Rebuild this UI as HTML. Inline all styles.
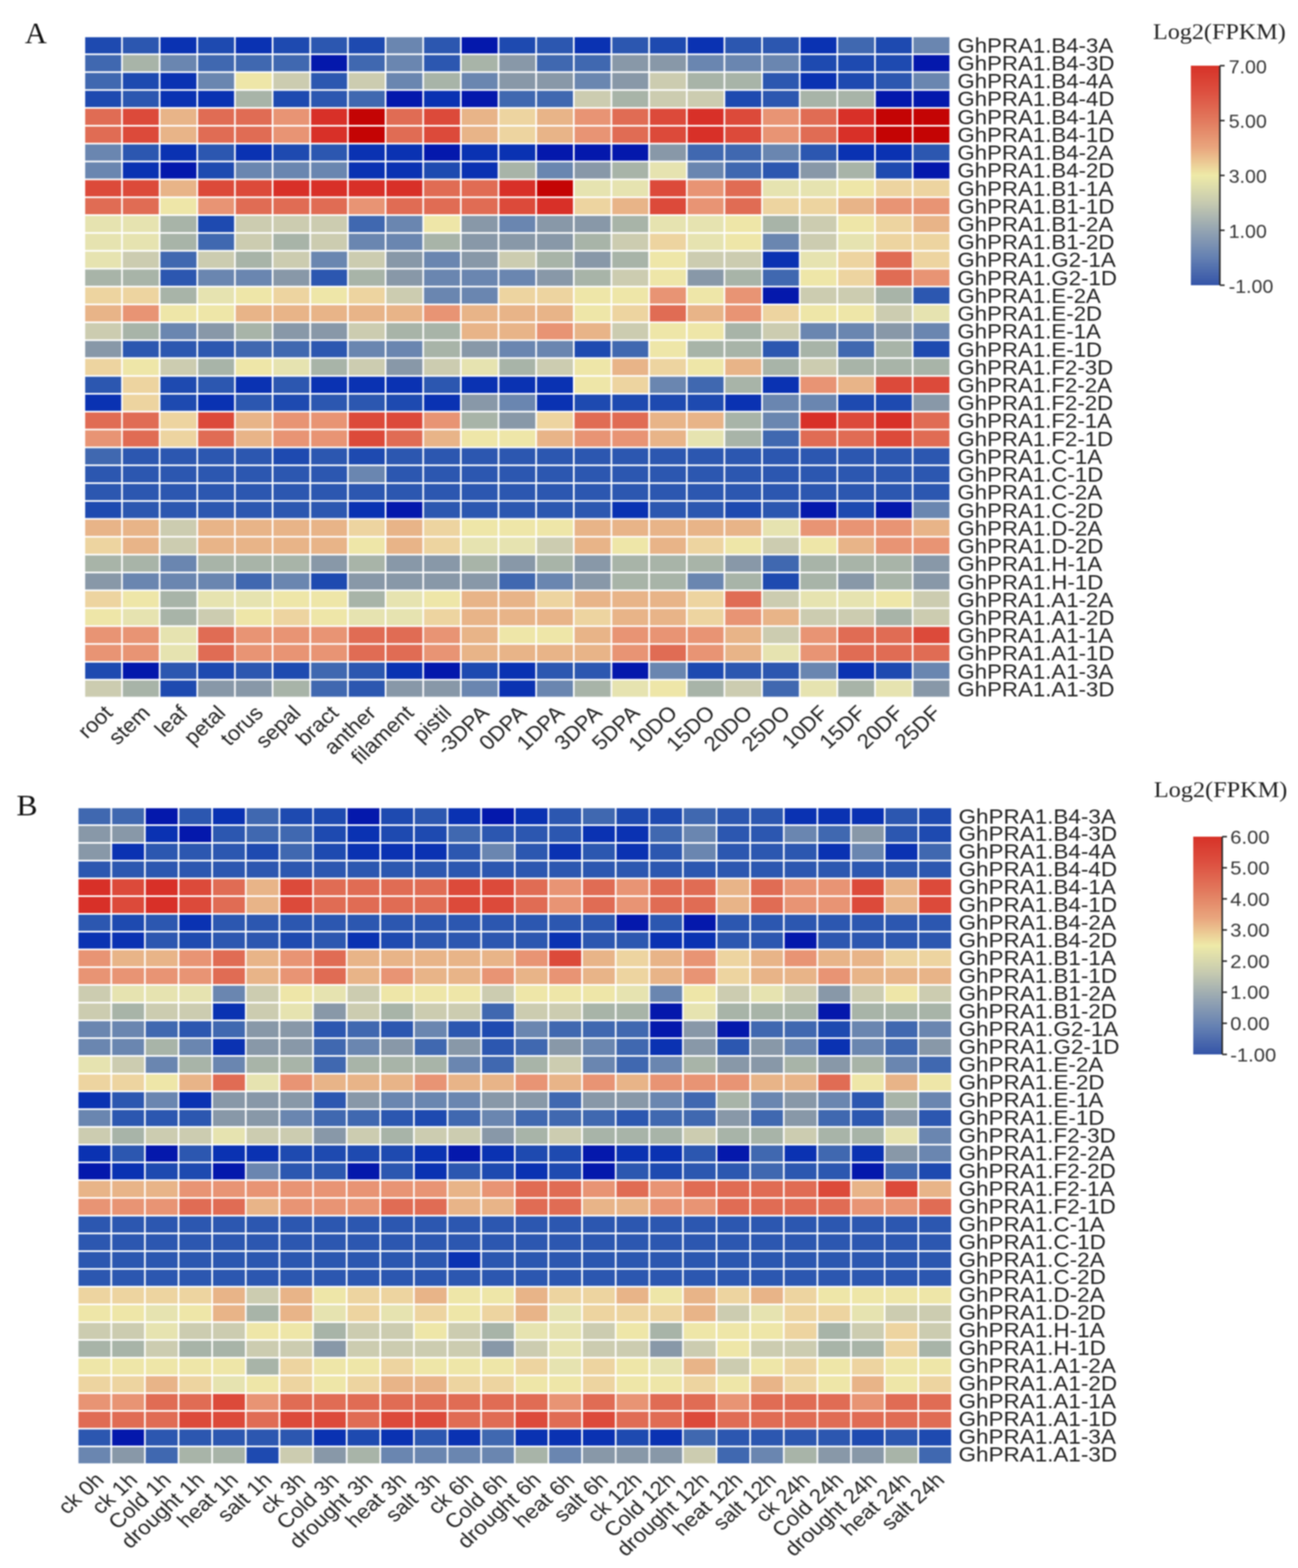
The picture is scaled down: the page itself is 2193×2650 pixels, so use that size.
<!DOCTYPE html>
<html><head><meta charset="utf-8"><title>Heatmap</title>
<style>
html,body{margin:0;padding:0;background:#fff;}
body{width:2193px;height:2650px;overflow:hidden;}
svg{display:block;filter:blur(1px);}
</style></head><body>
<svg width="2193" height="2650" viewBox="0 0 2193 2650">
<defs><linearGradient id="ga" x1="0" y1="0" x2="0" y2="1"><stop offset="0" stop-color="#d73228"/><stop offset="0.12" stop-color="#dd5040"/><stop offset="0.25" stop-color="#e27a5e"/><stop offset="0.375" stop-color="#e9a67e"/><stop offset="0.5" stop-color="#eeeaa8"/><stop offset="0.625" stop-color="#c6cab0"/><stop offset="0.75" stop-color="#94a4b2"/><stop offset="0.875" stop-color="#6480b2"/><stop offset="1" stop-color="#3454a8"/></linearGradient><linearGradient id="gb" x1="0" y1="0" x2="0" y2="1"><stop offset="0" stop-color="#d73228"/><stop offset="0.12" stop-color="#dd5040"/><stop offset="0.25" stop-color="#e27a5e"/><stop offset="0.375" stop-color="#e9a67e"/><stop offset="0.5" stop-color="#eeeaa8"/><stop offset="0.625" stop-color="#c6cab0"/><stop offset="0.75" stop-color="#94a4b2"/><stop offset="0.875" stop-color="#6480b2"/><stop offset="1" stop-color="#3454a8"/></linearGradient></defs>
<g id="cells">
<rect x="143.9" y="62.9" width="60.8" height="27.4" fill="#1e4ab0"/>
<rect x="207.5" y="62.9" width="60.8" height="27.4" fill="#2c57b0"/>
<rect x="271.1" y="62.9" width="60.8" height="27.4" fill="#0a32b2"/>
<rect x="334.7" y="62.9" width="60.8" height="27.4" fill="#1e4ab0"/>
<rect x="398.3" y="62.9" width="60.8" height="27.4" fill="#0a32b2"/>
<rect x="461.9" y="62.9" width="60.8" height="27.4" fill="#1e4ab0"/>
<rect x="525.6" y="62.9" width="60.8" height="27.4" fill="#2c57b0"/>
<rect x="589.2" y="62.9" width="60.8" height="27.4" fill="#1e4ab0"/>
<rect x="652.8" y="62.9" width="60.8" height="27.4" fill="#6a86b0"/>
<rect x="716.4" y="62.9" width="60.8" height="27.4" fill="#2c57b0"/>
<rect x="780.0" y="62.9" width="60.8" height="27.4" fill="#0418ac"/>
<rect x="843.6" y="62.9" width="60.8" height="27.4" fill="#1e4ab0"/>
<rect x="907.2" y="62.9" width="60.8" height="27.4" fill="#2c57b0"/>
<rect x="970.8" y="62.9" width="60.8" height="27.4" fill="#0a32b2"/>
<rect x="1034.4" y="62.9" width="60.8" height="27.4" fill="#2c57b0"/>
<rect x="1098.1" y="62.9" width="60.8" height="27.4" fill="#1e4ab0"/>
<rect x="1161.7" y="62.9" width="60.8" height="27.4" fill="#0a32b2"/>
<rect x="1225.3" y="62.9" width="60.8" height="27.4" fill="#2c57b0"/>
<rect x="1288.9" y="62.9" width="60.8" height="27.4" fill="#2c57b0"/>
<rect x="1352.5" y="62.9" width="60.8" height="27.4" fill="#0a32b2"/>
<rect x="1416.1" y="62.9" width="60.8" height="27.4" fill="#4068b0"/>
<rect x="1479.7" y="62.9" width="60.8" height="27.4" fill="#1e4ab0"/>
<rect x="1543.3" y="62.9" width="60.8" height="27.4" fill="#6a86b0"/>
<rect x="143.9" y="93.1" width="60.8" height="27.4" fill="#4068b0"/>
<rect x="207.5" y="93.1" width="60.8" height="27.4" fill="#a8b4a8"/>
<rect x="271.1" y="93.1" width="60.8" height="27.4" fill="#6a86b0"/>
<rect x="334.7" y="93.1" width="60.8" height="27.4" fill="#4068b0"/>
<rect x="398.3" y="93.1" width="60.8" height="27.4" fill="#4068b0"/>
<rect x="461.9" y="93.1" width="60.8" height="27.4" fill="#4068b0"/>
<rect x="525.6" y="93.1" width="60.8" height="27.4" fill="#0418ac"/>
<rect x="589.2" y="93.1" width="60.8" height="27.4" fill="#4068b0"/>
<rect x="652.8" y="93.1" width="60.8" height="27.4" fill="#6a86b0"/>
<rect x="716.4" y="93.1" width="60.8" height="27.4" fill="#2c57b0"/>
<rect x="780.0" y="93.1" width="60.8" height="27.4" fill="#a8b4a8"/>
<rect x="843.6" y="93.1" width="60.8" height="27.4" fill="#8898a8"/>
<rect x="907.2" y="93.1" width="60.8" height="27.4" fill="#4068b0"/>
<rect x="970.8" y="93.1" width="60.8" height="27.4" fill="#4068b0"/>
<rect x="1034.4" y="93.1" width="60.8" height="27.4" fill="#8898a8"/>
<rect x="1098.1" y="93.1" width="60.8" height="27.4" fill="#8898a8"/>
<rect x="1161.7" y="93.1" width="60.8" height="27.4" fill="#6a86b0"/>
<rect x="1225.3" y="93.1" width="60.8" height="27.4" fill="#6a86b0"/>
<rect x="1288.9" y="93.1" width="60.8" height="27.4" fill="#6a86b0"/>
<rect x="1352.5" y="93.1" width="60.8" height="27.4" fill="#1e4ab0"/>
<rect x="1416.1" y="93.1" width="60.8" height="27.4" fill="#1e4ab0"/>
<rect x="1479.7" y="93.1" width="60.8" height="27.4" fill="#1e4ab0"/>
<rect x="1543.3" y="93.1" width="60.8" height="27.4" fill="#0418ac"/>
<rect x="143.9" y="123.3" width="60.8" height="27.4" fill="#4068b0"/>
<rect x="207.5" y="123.3" width="60.8" height="27.4" fill="#1e4ab0"/>
<rect x="271.1" y="123.3" width="60.8" height="27.4" fill="#0a32b2"/>
<rect x="334.7" y="123.3" width="60.8" height="27.4" fill="#6a86b0"/>
<rect x="398.3" y="123.3" width="60.8" height="27.4" fill="#eee6a8"/>
<rect x="461.9" y="123.3" width="60.8" height="27.4" fill="#ccccb0"/>
<rect x="525.6" y="123.3" width="60.8" height="27.4" fill="#2c57b0"/>
<rect x="589.2" y="123.3" width="60.8" height="27.4" fill="#ccccb0"/>
<rect x="652.8" y="123.3" width="60.8" height="27.4" fill="#6a86b0"/>
<rect x="716.4" y="123.3" width="60.8" height="27.4" fill="#a8b4a8"/>
<rect x="780.0" y="123.3" width="60.8" height="27.4" fill="#6a86b0"/>
<rect x="843.6" y="123.3" width="60.8" height="27.4" fill="#8898a8"/>
<rect x="907.2" y="123.3" width="60.8" height="27.4" fill="#8898a8"/>
<rect x="970.8" y="123.3" width="60.8" height="27.4" fill="#6a86b0"/>
<rect x="1034.4" y="123.3" width="60.8" height="27.4" fill="#8898a8"/>
<rect x="1098.1" y="123.3" width="60.8" height="27.4" fill="#ccccb0"/>
<rect x="1161.7" y="123.3" width="60.8" height="27.4" fill="#a8b4a8"/>
<rect x="1225.3" y="123.3" width="60.8" height="27.4" fill="#a8b4a8"/>
<rect x="1288.9" y="123.3" width="60.8" height="27.4" fill="#2c57b0"/>
<rect x="1352.5" y="123.3" width="60.8" height="27.4" fill="#0a32b2"/>
<rect x="1416.1" y="123.3" width="60.8" height="27.4" fill="#1e4ab0"/>
<rect x="1479.7" y="123.3" width="60.8" height="27.4" fill="#2c57b0"/>
<rect x="1543.3" y="123.3" width="60.8" height="27.4" fill="#6a86b0"/>
<rect x="143.9" y="153.5" width="60.8" height="27.4" fill="#1e4ab0"/>
<rect x="207.5" y="153.5" width="60.8" height="27.4" fill="#2c57b0"/>
<rect x="271.1" y="153.5" width="60.8" height="27.4" fill="#0a32b2"/>
<rect x="334.7" y="153.5" width="60.8" height="27.4" fill="#0a32b2"/>
<rect x="398.3" y="153.5" width="60.8" height="27.4" fill="#a8b4a8"/>
<rect x="461.9" y="153.5" width="60.8" height="27.4" fill="#1e4ab0"/>
<rect x="525.6" y="153.5" width="60.8" height="27.4" fill="#2c57b0"/>
<rect x="589.2" y="153.5" width="60.8" height="27.4" fill="#4068b0"/>
<rect x="652.8" y="153.5" width="60.8" height="27.4" fill="#0418ac"/>
<rect x="716.4" y="153.5" width="60.8" height="27.4" fill="#0a32b2"/>
<rect x="780.0" y="153.5" width="60.8" height="27.4" fill="#0418ac"/>
<rect x="843.6" y="153.5" width="60.8" height="27.4" fill="#4068b0"/>
<rect x="907.2" y="153.5" width="60.8" height="27.4" fill="#4068b0"/>
<rect x="970.8" y="153.5" width="60.8" height="27.4" fill="#ccccb0"/>
<rect x="1034.4" y="153.5" width="60.8" height="27.4" fill="#a8b4a8"/>
<rect x="1098.1" y="153.5" width="60.8" height="27.4" fill="#ccccb0"/>
<rect x="1161.7" y="153.5" width="60.8" height="27.4" fill="#ccccb0"/>
<rect x="1225.3" y="153.5" width="60.8" height="27.4" fill="#1e4ab0"/>
<rect x="1288.9" y="153.5" width="60.8" height="27.4" fill="#2c57b0"/>
<rect x="1352.5" y="153.5" width="60.8" height="27.4" fill="#a8b4a8"/>
<rect x="1416.1" y="153.5" width="60.8" height="27.4" fill="#a8b4a8"/>
<rect x="1479.7" y="153.5" width="60.8" height="27.4" fill="#0418ac"/>
<rect x="1543.3" y="153.5" width="60.8" height="27.4" fill="#0418ac"/>
<rect x="143.9" y="183.7" width="60.8" height="27.4" fill="#e06c54"/>
<rect x="207.5" y="183.7" width="60.8" height="27.4" fill="#dc4a3a"/>
<rect x="271.1" y="183.7" width="60.8" height="27.4" fill="#e8b488"/>
<rect x="334.7" y="183.7" width="60.8" height="27.4" fill="#e06c54"/>
<rect x="398.3" y="183.7" width="60.8" height="27.4" fill="#e06c54"/>
<rect x="461.9" y="183.7" width="60.8" height="27.4" fill="#e89474"/>
<rect x="525.6" y="183.7" width="60.8" height="27.4" fill="#d83028"/>
<rect x="589.2" y="183.7" width="60.8" height="27.4" fill="#c40404"/>
<rect x="652.8" y="183.7" width="60.8" height="27.4" fill="#e06c54"/>
<rect x="716.4" y="183.7" width="60.8" height="27.4" fill="#dc4a3a"/>
<rect x="780.0" y="183.7" width="60.8" height="27.4" fill="#e8b488"/>
<rect x="843.6" y="183.7" width="60.8" height="27.4" fill="#edd4a0"/>
<rect x="907.2" y="183.7" width="60.8" height="27.4" fill="#e8b488"/>
<rect x="970.8" y="183.7" width="60.8" height="27.4" fill="#e89474"/>
<rect x="1034.4" y="183.7" width="60.8" height="27.4" fill="#e06c54"/>
<rect x="1098.1" y="183.7" width="60.8" height="27.4" fill="#dc4a3a"/>
<rect x="1161.7" y="183.7" width="60.8" height="27.4" fill="#d83028"/>
<rect x="1225.3" y="183.7" width="60.8" height="27.4" fill="#dc4a3a"/>
<rect x="1288.9" y="183.7" width="60.8" height="27.4" fill="#e89474"/>
<rect x="1352.5" y="183.7" width="60.8" height="27.4" fill="#e06c54"/>
<rect x="1416.1" y="183.7" width="60.8" height="27.4" fill="#d83028"/>
<rect x="1479.7" y="183.7" width="60.8" height="27.4" fill="#c40404"/>
<rect x="1543.3" y="183.7" width="60.8" height="27.4" fill="#c40404"/>
<rect x="143.9" y="213.9" width="60.8" height="27.4" fill="#e06c54"/>
<rect x="207.5" y="213.9" width="60.8" height="27.4" fill="#dc4a3a"/>
<rect x="271.1" y="213.9" width="60.8" height="27.4" fill="#e8b488"/>
<rect x="334.7" y="213.9" width="60.8" height="27.4" fill="#e06c54"/>
<rect x="398.3" y="213.9" width="60.8" height="27.4" fill="#e06c54"/>
<rect x="461.9" y="213.9" width="60.8" height="27.4" fill="#e89474"/>
<rect x="525.6" y="213.9" width="60.8" height="27.4" fill="#d83028"/>
<rect x="589.2" y="213.9" width="60.8" height="27.4" fill="#c40404"/>
<rect x="652.8" y="213.9" width="60.8" height="27.4" fill="#e06c54"/>
<rect x="716.4" y="213.9" width="60.8" height="27.4" fill="#dc4a3a"/>
<rect x="780.0" y="213.9" width="60.8" height="27.4" fill="#e8b488"/>
<rect x="843.6" y="213.9" width="60.8" height="27.4" fill="#edd4a0"/>
<rect x="907.2" y="213.9" width="60.8" height="27.4" fill="#e8b488"/>
<rect x="970.8" y="213.9" width="60.8" height="27.4" fill="#e89474"/>
<rect x="1034.4" y="213.9" width="60.8" height="27.4" fill="#e06c54"/>
<rect x="1098.1" y="213.9" width="60.8" height="27.4" fill="#dc4a3a"/>
<rect x="1161.7" y="213.9" width="60.8" height="27.4" fill="#d83028"/>
<rect x="1225.3" y="213.9" width="60.8" height="27.4" fill="#dc4a3a"/>
<rect x="1288.9" y="213.9" width="60.8" height="27.4" fill="#e89474"/>
<rect x="1352.5" y="213.9" width="60.8" height="27.4" fill="#e06c54"/>
<rect x="1416.1" y="213.9" width="60.8" height="27.4" fill="#d83028"/>
<rect x="1479.7" y="213.9" width="60.8" height="27.4" fill="#c40404"/>
<rect x="1543.3" y="213.9" width="60.8" height="27.4" fill="#c40404"/>
<rect x="143.9" y="244.1" width="60.8" height="27.4" fill="#6a86b0"/>
<rect x="207.5" y="244.1" width="60.8" height="27.4" fill="#2c57b0"/>
<rect x="271.1" y="244.1" width="60.8" height="27.4" fill="#0a32b2"/>
<rect x="334.7" y="244.1" width="60.8" height="27.4" fill="#2c57b0"/>
<rect x="398.3" y="244.1" width="60.8" height="27.4" fill="#0a32b2"/>
<rect x="461.9" y="244.1" width="60.8" height="27.4" fill="#1e4ab0"/>
<rect x="525.6" y="244.1" width="60.8" height="27.4" fill="#2c57b0"/>
<rect x="589.2" y="244.1" width="60.8" height="27.4" fill="#0a32b2"/>
<rect x="652.8" y="244.1" width="60.8" height="27.4" fill="#0a32b2"/>
<rect x="716.4" y="244.1" width="60.8" height="27.4" fill="#0418ac"/>
<rect x="780.0" y="244.1" width="60.8" height="27.4" fill="#0a32b2"/>
<rect x="843.6" y="244.1" width="60.8" height="27.4" fill="#0a32b2"/>
<rect x="907.2" y="244.1" width="60.8" height="27.4" fill="#0418ac"/>
<rect x="970.8" y="244.1" width="60.8" height="27.4" fill="#0418ac"/>
<rect x="1034.4" y="244.1" width="60.8" height="27.4" fill="#0418ac"/>
<rect x="1098.1" y="244.1" width="60.8" height="27.4" fill="#8898a8"/>
<rect x="1161.7" y="244.1" width="60.8" height="27.4" fill="#4068b0"/>
<rect x="1225.3" y="244.1" width="60.8" height="27.4" fill="#4068b0"/>
<rect x="1288.9" y="244.1" width="60.8" height="27.4" fill="#6a86b0"/>
<rect x="1352.5" y="244.1" width="60.8" height="27.4" fill="#2c57b0"/>
<rect x="1416.1" y="244.1" width="60.8" height="27.4" fill="#0a32b2"/>
<rect x="1479.7" y="244.1" width="60.8" height="27.4" fill="#0a32b2"/>
<rect x="1543.3" y="244.1" width="60.8" height="27.4" fill="#2c57b0"/>
<rect x="143.9" y="274.3" width="60.8" height="27.4" fill="#6a86b0"/>
<rect x="207.5" y="274.3" width="60.8" height="27.4" fill="#0a32b2"/>
<rect x="271.1" y="274.3" width="60.8" height="27.4" fill="#0418ac"/>
<rect x="334.7" y="274.3" width="60.8" height="27.4" fill="#1e4ab0"/>
<rect x="398.3" y="274.3" width="60.8" height="27.4" fill="#6a86b0"/>
<rect x="461.9" y="274.3" width="60.8" height="27.4" fill="#6a86b0"/>
<rect x="525.6" y="274.3" width="60.8" height="27.4" fill="#6a86b0"/>
<rect x="589.2" y="274.3" width="60.8" height="27.4" fill="#0a32b2"/>
<rect x="652.8" y="274.3" width="60.8" height="27.4" fill="#0a32b2"/>
<rect x="716.4" y="274.3" width="60.8" height="27.4" fill="#1e4ab0"/>
<rect x="780.0" y="274.3" width="60.8" height="27.4" fill="#0a32b2"/>
<rect x="843.6" y="274.3" width="60.8" height="27.4" fill="#a8b4a8"/>
<rect x="907.2" y="274.3" width="60.8" height="27.4" fill="#6a86b0"/>
<rect x="970.8" y="274.3" width="60.8" height="27.4" fill="#8898a8"/>
<rect x="1034.4" y="274.3" width="60.8" height="27.4" fill="#a8b4a8"/>
<rect x="1098.1" y="274.3" width="60.8" height="27.4" fill="#e6e3b0"/>
<rect x="1161.7" y="274.3" width="60.8" height="27.4" fill="#6a86b0"/>
<rect x="1225.3" y="274.3" width="60.8" height="27.4" fill="#4068b0"/>
<rect x="1288.9" y="274.3" width="60.8" height="27.4" fill="#2c57b0"/>
<rect x="1352.5" y="274.3" width="60.8" height="27.4" fill="#8898a8"/>
<rect x="1416.1" y="274.3" width="60.8" height="27.4" fill="#a8b4a8"/>
<rect x="1479.7" y="274.3" width="60.8" height="27.4" fill="#1e4ab0"/>
<rect x="1543.3" y="274.3" width="60.8" height="27.4" fill="#0418ac"/>
<rect x="143.9" y="304.5" width="60.8" height="27.4" fill="#dc4a3a"/>
<rect x="207.5" y="304.5" width="60.8" height="27.4" fill="#dc4a3a"/>
<rect x="271.1" y="304.5" width="60.8" height="27.4" fill="#e8b488"/>
<rect x="334.7" y="304.5" width="60.8" height="27.4" fill="#dc4a3a"/>
<rect x="398.3" y="304.5" width="60.8" height="27.4" fill="#dc4a3a"/>
<rect x="461.9" y="304.5" width="60.8" height="27.4" fill="#d83028"/>
<rect x="525.6" y="304.5" width="60.8" height="27.4" fill="#d83028"/>
<rect x="589.2" y="304.5" width="60.8" height="27.4" fill="#d83028"/>
<rect x="652.8" y="304.5" width="60.8" height="27.4" fill="#d83028"/>
<rect x="716.4" y="304.5" width="60.8" height="27.4" fill="#e06c54"/>
<rect x="780.0" y="304.5" width="60.8" height="27.4" fill="#e06c54"/>
<rect x="843.6" y="304.5" width="60.8" height="27.4" fill="#d83028"/>
<rect x="907.2" y="304.5" width="60.8" height="27.4" fill="#c40404"/>
<rect x="970.8" y="304.5" width="60.8" height="27.4" fill="#e6e3b0"/>
<rect x="1034.4" y="304.5" width="60.8" height="27.4" fill="#e6e3b0"/>
<rect x="1098.1" y="304.5" width="60.8" height="27.4" fill="#dc4a3a"/>
<rect x="1161.7" y="304.5" width="60.8" height="27.4" fill="#e89474"/>
<rect x="1225.3" y="304.5" width="60.8" height="27.4" fill="#e06c54"/>
<rect x="1288.9" y="304.5" width="60.8" height="27.4" fill="#e6e3b0"/>
<rect x="1352.5" y="304.5" width="60.8" height="27.4" fill="#e6e3b0"/>
<rect x="1416.1" y="304.5" width="60.8" height="27.4" fill="#eee6a8"/>
<rect x="1479.7" y="304.5" width="60.8" height="27.4" fill="#edd4a0"/>
<rect x="1543.3" y="304.5" width="60.8" height="27.4" fill="#edd4a0"/>
<rect x="143.9" y="334.7" width="60.8" height="27.4" fill="#e06c54"/>
<rect x="207.5" y="334.7" width="60.8" height="27.4" fill="#e06c54"/>
<rect x="271.1" y="334.7" width="60.8" height="27.4" fill="#eee6a8"/>
<rect x="334.7" y="334.7" width="60.8" height="27.4" fill="#e89474"/>
<rect x="398.3" y="334.7" width="60.8" height="27.4" fill="#e06c54"/>
<rect x="461.9" y="334.7" width="60.8" height="27.4" fill="#e06c54"/>
<rect x="525.6" y="334.7" width="60.8" height="27.4" fill="#e06c54"/>
<rect x="589.2" y="334.7" width="60.8" height="27.4" fill="#e89474"/>
<rect x="652.8" y="334.7" width="60.8" height="27.4" fill="#e06c54"/>
<rect x="716.4" y="334.7" width="60.8" height="27.4" fill="#e06c54"/>
<rect x="780.0" y="334.7" width="60.8" height="27.4" fill="#e06c54"/>
<rect x="843.6" y="334.7" width="60.8" height="27.4" fill="#dc4a3a"/>
<rect x="907.2" y="334.7" width="60.8" height="27.4" fill="#d83028"/>
<rect x="970.8" y="334.7" width="60.8" height="27.4" fill="#edd4a0"/>
<rect x="1034.4" y="334.7" width="60.8" height="27.4" fill="#e8b488"/>
<rect x="1098.1" y="334.7" width="60.8" height="27.4" fill="#dc4a3a"/>
<rect x="1161.7" y="334.7" width="60.8" height="27.4" fill="#e89474"/>
<rect x="1225.3" y="334.7" width="60.8" height="27.4" fill="#e06c54"/>
<rect x="1288.9" y="334.7" width="60.8" height="27.4" fill="#edd4a0"/>
<rect x="1352.5" y="334.7" width="60.8" height="27.4" fill="#edd4a0"/>
<rect x="1416.1" y="334.7" width="60.8" height="27.4" fill="#e8b488"/>
<rect x="1479.7" y="334.7" width="60.8" height="27.4" fill="#e89474"/>
<rect x="1543.3" y="334.7" width="60.8" height="27.4" fill="#e89474"/>
<rect x="143.9" y="364.9" width="60.8" height="27.4" fill="#e6e3b0"/>
<rect x="207.5" y="364.9" width="60.8" height="27.4" fill="#e6e3b0"/>
<rect x="271.1" y="364.9" width="60.8" height="27.4" fill="#a8b4a8"/>
<rect x="334.7" y="364.9" width="60.8" height="27.4" fill="#1e4ab0"/>
<rect x="398.3" y="364.9" width="60.8" height="27.4" fill="#ccccb0"/>
<rect x="461.9" y="364.9" width="60.8" height="27.4" fill="#ccccb0"/>
<rect x="525.6" y="364.9" width="60.8" height="27.4" fill="#ccccb0"/>
<rect x="589.2" y="364.9" width="60.8" height="27.4" fill="#4068b0"/>
<rect x="652.8" y="364.9" width="60.8" height="27.4" fill="#6a86b0"/>
<rect x="716.4" y="364.9" width="60.8" height="27.4" fill="#eee6a8"/>
<rect x="780.0" y="364.9" width="60.8" height="27.4" fill="#8898a8"/>
<rect x="843.6" y="364.9" width="60.8" height="27.4" fill="#6a86b0"/>
<rect x="907.2" y="364.9" width="60.8" height="27.4" fill="#8898a8"/>
<rect x="970.8" y="364.9" width="60.8" height="27.4" fill="#8898a8"/>
<rect x="1034.4" y="364.9" width="60.8" height="27.4" fill="#a8b4a8"/>
<rect x="1098.1" y="364.9" width="60.8" height="27.4" fill="#e6e3b0"/>
<rect x="1161.7" y="364.9" width="60.8" height="27.4" fill="#e6e3b0"/>
<rect x="1225.3" y="364.9" width="60.8" height="27.4" fill="#eee6a8"/>
<rect x="1288.9" y="364.9" width="60.8" height="27.4" fill="#a8b4a8"/>
<rect x="1352.5" y="364.9" width="60.8" height="27.4" fill="#ccccb0"/>
<rect x="1416.1" y="364.9" width="60.8" height="27.4" fill="#eee6a8"/>
<rect x="1479.7" y="364.9" width="60.8" height="27.4" fill="#edd4a0"/>
<rect x="1543.3" y="364.9" width="60.8" height="27.4" fill="#e8b488"/>
<rect x="143.9" y="395.1" width="60.8" height="27.4" fill="#e6e3b0"/>
<rect x="207.5" y="395.1" width="60.8" height="27.4" fill="#e6e3b0"/>
<rect x="271.1" y="395.1" width="60.8" height="27.4" fill="#a8b4a8"/>
<rect x="334.7" y="395.1" width="60.8" height="27.4" fill="#4068b0"/>
<rect x="398.3" y="395.1" width="60.8" height="27.4" fill="#ccccb0"/>
<rect x="461.9" y="395.1" width="60.8" height="27.4" fill="#a8b4a8"/>
<rect x="525.6" y="395.1" width="60.8" height="27.4" fill="#ccccb0"/>
<rect x="589.2" y="395.1" width="60.8" height="27.4" fill="#6a86b0"/>
<rect x="652.8" y="395.1" width="60.8" height="27.4" fill="#6a86b0"/>
<rect x="716.4" y="395.1" width="60.8" height="27.4" fill="#a8b4a8"/>
<rect x="780.0" y="395.1" width="60.8" height="27.4" fill="#8898a8"/>
<rect x="843.6" y="395.1" width="60.8" height="27.4" fill="#8898a8"/>
<rect x="907.2" y="395.1" width="60.8" height="27.4" fill="#8898a8"/>
<rect x="970.8" y="395.1" width="60.8" height="27.4" fill="#a8b4a8"/>
<rect x="1034.4" y="395.1" width="60.8" height="27.4" fill="#ccccb0"/>
<rect x="1098.1" y="395.1" width="60.8" height="27.4" fill="#edd4a0"/>
<rect x="1161.7" y="395.1" width="60.8" height="27.4" fill="#e6e3b0"/>
<rect x="1225.3" y="395.1" width="60.8" height="27.4" fill="#eee6a8"/>
<rect x="1288.9" y="395.1" width="60.8" height="27.4" fill="#6a86b0"/>
<rect x="1352.5" y="395.1" width="60.8" height="27.4" fill="#ccccb0"/>
<rect x="1416.1" y="395.1" width="60.8" height="27.4" fill="#e6e3b0"/>
<rect x="1479.7" y="395.1" width="60.8" height="27.4" fill="#edd4a0"/>
<rect x="1543.3" y="395.1" width="60.8" height="27.4" fill="#edd4a0"/>
<rect x="143.9" y="425.3" width="60.8" height="27.4" fill="#e6e3b0"/>
<rect x="207.5" y="425.3" width="60.8" height="27.4" fill="#ccccb0"/>
<rect x="271.1" y="425.3" width="60.8" height="27.4" fill="#4068b0"/>
<rect x="334.7" y="425.3" width="60.8" height="27.4" fill="#ccccb0"/>
<rect x="398.3" y="425.3" width="60.8" height="27.4" fill="#a8b4a8"/>
<rect x="461.9" y="425.3" width="60.8" height="27.4" fill="#ccccb0"/>
<rect x="525.6" y="425.3" width="60.8" height="27.4" fill="#6a86b0"/>
<rect x="589.2" y="425.3" width="60.8" height="27.4" fill="#ccccb0"/>
<rect x="652.8" y="425.3" width="60.8" height="27.4" fill="#8898a8"/>
<rect x="716.4" y="425.3" width="60.8" height="27.4" fill="#6a86b0"/>
<rect x="780.0" y="425.3" width="60.8" height="27.4" fill="#8898a8"/>
<rect x="843.6" y="425.3" width="60.8" height="27.4" fill="#ccccb0"/>
<rect x="907.2" y="425.3" width="60.8" height="27.4" fill="#a8b4a8"/>
<rect x="970.8" y="425.3" width="60.8" height="27.4" fill="#8898a8"/>
<rect x="1034.4" y="425.3" width="60.8" height="27.4" fill="#a8b4a8"/>
<rect x="1098.1" y="425.3" width="60.8" height="27.4" fill="#eee6a8"/>
<rect x="1161.7" y="425.3" width="60.8" height="27.4" fill="#ccccb0"/>
<rect x="1225.3" y="425.3" width="60.8" height="27.4" fill="#ccccb0"/>
<rect x="1288.9" y="425.3" width="60.8" height="27.4" fill="#0a32b2"/>
<rect x="1352.5" y="425.3" width="60.8" height="27.4" fill="#e6e3b0"/>
<rect x="1416.1" y="425.3" width="60.8" height="27.4" fill="#edd4a0"/>
<rect x="1479.7" y="425.3" width="60.8" height="27.4" fill="#e06c54"/>
<rect x="1543.3" y="425.3" width="60.8" height="27.4" fill="#edd4a0"/>
<rect x="143.9" y="455.5" width="60.8" height="27.4" fill="#a8b4a8"/>
<rect x="207.5" y="455.5" width="60.8" height="27.4" fill="#a8b4a8"/>
<rect x="271.1" y="455.5" width="60.8" height="27.4" fill="#2c57b0"/>
<rect x="334.7" y="455.5" width="60.8" height="27.4" fill="#6a86b0"/>
<rect x="398.3" y="455.5" width="60.8" height="27.4" fill="#6a86b0"/>
<rect x="461.9" y="455.5" width="60.8" height="27.4" fill="#8898a8"/>
<rect x="525.6" y="455.5" width="60.8" height="27.4" fill="#2c57b0"/>
<rect x="589.2" y="455.5" width="60.8" height="27.4" fill="#a8b4a8"/>
<rect x="652.8" y="455.5" width="60.8" height="27.4" fill="#8898a8"/>
<rect x="716.4" y="455.5" width="60.8" height="27.4" fill="#6a86b0"/>
<rect x="780.0" y="455.5" width="60.8" height="27.4" fill="#6a86b0"/>
<rect x="843.6" y="455.5" width="60.8" height="27.4" fill="#6a86b0"/>
<rect x="907.2" y="455.5" width="60.8" height="27.4" fill="#8898a8"/>
<rect x="970.8" y="455.5" width="60.8" height="27.4" fill="#a8b4a8"/>
<rect x="1034.4" y="455.5" width="60.8" height="27.4" fill="#ccccb0"/>
<rect x="1098.1" y="455.5" width="60.8" height="27.4" fill="#eee6a8"/>
<rect x="1161.7" y="455.5" width="60.8" height="27.4" fill="#8898a8"/>
<rect x="1225.3" y="455.5" width="60.8" height="27.4" fill="#a8b4a8"/>
<rect x="1288.9" y="455.5" width="60.8" height="27.4" fill="#4068b0"/>
<rect x="1352.5" y="455.5" width="60.8" height="27.4" fill="#eee6a8"/>
<rect x="1416.1" y="455.5" width="60.8" height="27.4" fill="#edd4a0"/>
<rect x="1479.7" y="455.5" width="60.8" height="27.4" fill="#e06c54"/>
<rect x="1543.3" y="455.5" width="60.8" height="27.4" fill="#e89474"/>
<rect x="143.9" y="485.7" width="60.8" height="27.4" fill="#edd4a0"/>
<rect x="207.5" y="485.7" width="60.8" height="27.4" fill="#edd4a0"/>
<rect x="271.1" y="485.7" width="60.8" height="27.4" fill="#a8b4a8"/>
<rect x="334.7" y="485.7" width="60.8" height="27.4" fill="#e6e3b0"/>
<rect x="398.3" y="485.7" width="60.8" height="27.4" fill="#eee6a8"/>
<rect x="461.9" y="485.7" width="60.8" height="27.4" fill="#edd4a0"/>
<rect x="525.6" y="485.7" width="60.8" height="27.4" fill="#eee6a8"/>
<rect x="589.2" y="485.7" width="60.8" height="27.4" fill="#edd4a0"/>
<rect x="652.8" y="485.7" width="60.8" height="27.4" fill="#ccccb0"/>
<rect x="716.4" y="485.7" width="60.8" height="27.4" fill="#6a86b0"/>
<rect x="780.0" y="485.7" width="60.8" height="27.4" fill="#6a86b0"/>
<rect x="843.6" y="485.7" width="60.8" height="27.4" fill="#edd4a0"/>
<rect x="907.2" y="485.7" width="60.8" height="27.4" fill="#edd4a0"/>
<rect x="970.8" y="485.7" width="60.8" height="27.4" fill="#eee6a8"/>
<rect x="1034.4" y="485.7" width="60.8" height="27.4" fill="#eee6a8"/>
<rect x="1098.1" y="485.7" width="60.8" height="27.4" fill="#e89474"/>
<rect x="1161.7" y="485.7" width="60.8" height="27.4" fill="#eee6a8"/>
<rect x="1225.3" y="485.7" width="60.8" height="27.4" fill="#e89474"/>
<rect x="1288.9" y="485.7" width="60.8" height="27.4" fill="#0418ac"/>
<rect x="1352.5" y="485.7" width="60.8" height="27.4" fill="#ccccb0"/>
<rect x="1416.1" y="485.7" width="60.8" height="27.4" fill="#ccccb0"/>
<rect x="1479.7" y="485.7" width="60.8" height="27.4" fill="#a8b4a8"/>
<rect x="1543.3" y="485.7" width="60.8" height="27.4" fill="#2c57b0"/>
<rect x="143.9" y="515.9" width="60.8" height="27.4" fill="#e8b488"/>
<rect x="207.5" y="515.9" width="60.8" height="27.4" fill="#e89474"/>
<rect x="271.1" y="515.9" width="60.8" height="27.4" fill="#eee6a8"/>
<rect x="334.7" y="515.9" width="60.8" height="27.4" fill="#eee6a8"/>
<rect x="398.3" y="515.9" width="60.8" height="27.4" fill="#e8b488"/>
<rect x="461.9" y="515.9" width="60.8" height="27.4" fill="#e8b488"/>
<rect x="525.6" y="515.9" width="60.8" height="27.4" fill="#e8b488"/>
<rect x="589.2" y="515.9" width="60.8" height="27.4" fill="#e8b488"/>
<rect x="652.8" y="515.9" width="60.8" height="27.4" fill="#e8b488"/>
<rect x="716.4" y="515.9" width="60.8" height="27.4" fill="#e89474"/>
<rect x="780.0" y="515.9" width="60.8" height="27.4" fill="#e8b488"/>
<rect x="843.6" y="515.9" width="60.8" height="27.4" fill="#e8b488"/>
<rect x="907.2" y="515.9" width="60.8" height="27.4" fill="#e8b488"/>
<rect x="970.8" y="515.9" width="60.8" height="27.4" fill="#eee6a8"/>
<rect x="1034.4" y="515.9" width="60.8" height="27.4" fill="#edd4a0"/>
<rect x="1098.1" y="515.9" width="60.8" height="27.4" fill="#e06c54"/>
<rect x="1161.7" y="515.9" width="60.8" height="27.4" fill="#e8b488"/>
<rect x="1225.3" y="515.9" width="60.8" height="27.4" fill="#e89474"/>
<rect x="1288.9" y="515.9" width="60.8" height="27.4" fill="#edd4a0"/>
<rect x="1352.5" y="515.9" width="60.8" height="27.4" fill="#eee6a8"/>
<rect x="1416.1" y="515.9" width="60.8" height="27.4" fill="#eee6a8"/>
<rect x="1479.7" y="515.9" width="60.8" height="27.4" fill="#ccccb0"/>
<rect x="1543.3" y="515.9" width="60.8" height="27.4" fill="#e6e3b0"/>
<rect x="143.9" y="546.1" width="60.8" height="27.4" fill="#ccccb0"/>
<rect x="207.5" y="546.1" width="60.8" height="27.4" fill="#a8b4a8"/>
<rect x="271.1" y="546.1" width="60.8" height="27.4" fill="#6a86b0"/>
<rect x="334.7" y="546.1" width="60.8" height="27.4" fill="#8898a8"/>
<rect x="398.3" y="546.1" width="60.8" height="27.4" fill="#a8b4a8"/>
<rect x="461.9" y="546.1" width="60.8" height="27.4" fill="#8898a8"/>
<rect x="525.6" y="546.1" width="60.8" height="27.4" fill="#8898a8"/>
<rect x="589.2" y="546.1" width="60.8" height="27.4" fill="#ccccb0"/>
<rect x="652.8" y="546.1" width="60.8" height="27.4" fill="#a8b4a8"/>
<rect x="716.4" y="546.1" width="60.8" height="27.4" fill="#a8b4a8"/>
<rect x="780.0" y="546.1" width="60.8" height="27.4" fill="#e8b488"/>
<rect x="843.6" y="546.1" width="60.8" height="27.4" fill="#e8b488"/>
<rect x="907.2" y="546.1" width="60.8" height="27.4" fill="#e89474"/>
<rect x="970.8" y="546.1" width="60.8" height="27.4" fill="#e8b488"/>
<rect x="1034.4" y="546.1" width="60.8" height="27.4" fill="#ccccb0"/>
<rect x="1098.1" y="546.1" width="60.8" height="27.4" fill="#eee6a8"/>
<rect x="1161.7" y="546.1" width="60.8" height="27.4" fill="#eee6a8"/>
<rect x="1225.3" y="546.1" width="60.8" height="27.4" fill="#a8b4a8"/>
<rect x="1288.9" y="546.1" width="60.8" height="27.4" fill="#ccccb0"/>
<rect x="1352.5" y="546.1" width="60.8" height="27.4" fill="#6a86b0"/>
<rect x="1416.1" y="546.1" width="60.8" height="27.4" fill="#6a86b0"/>
<rect x="1479.7" y="546.1" width="60.8" height="27.4" fill="#8898a8"/>
<rect x="1543.3" y="546.1" width="60.8" height="27.4" fill="#6a86b0"/>
<rect x="143.9" y="576.3" width="60.8" height="27.4" fill="#8898a8"/>
<rect x="207.5" y="576.3" width="60.8" height="27.4" fill="#2c57b0"/>
<rect x="271.1" y="576.3" width="60.8" height="27.4" fill="#2c57b0"/>
<rect x="334.7" y="576.3" width="60.8" height="27.4" fill="#2c57b0"/>
<rect x="398.3" y="576.3" width="60.8" height="27.4" fill="#4068b0"/>
<rect x="461.9" y="576.3" width="60.8" height="27.4" fill="#4068b0"/>
<rect x="525.6" y="576.3" width="60.8" height="27.4" fill="#2c57b0"/>
<rect x="589.2" y="576.3" width="60.8" height="27.4" fill="#6a86b0"/>
<rect x="652.8" y="576.3" width="60.8" height="27.4" fill="#6a86b0"/>
<rect x="716.4" y="576.3" width="60.8" height="27.4" fill="#a8b4a8"/>
<rect x="780.0" y="576.3" width="60.8" height="27.4" fill="#8898a8"/>
<rect x="843.6" y="576.3" width="60.8" height="27.4" fill="#6a86b0"/>
<rect x="907.2" y="576.3" width="60.8" height="27.4" fill="#6a86b0"/>
<rect x="970.8" y="576.3" width="60.8" height="27.4" fill="#1e4ab0"/>
<rect x="1034.4" y="576.3" width="60.8" height="27.4" fill="#4068b0"/>
<rect x="1098.1" y="576.3" width="60.8" height="27.4" fill="#eee6a8"/>
<rect x="1161.7" y="576.3" width="60.8" height="27.4" fill="#a8b4a8"/>
<rect x="1225.3" y="576.3" width="60.8" height="27.4" fill="#a8b4a8"/>
<rect x="1288.9" y="576.3" width="60.8" height="27.4" fill="#2c57b0"/>
<rect x="1352.5" y="576.3" width="60.8" height="27.4" fill="#a8b4a8"/>
<rect x="1416.1" y="576.3" width="60.8" height="27.4" fill="#4068b0"/>
<rect x="1479.7" y="576.3" width="60.8" height="27.4" fill="#a8b4a8"/>
<rect x="1543.3" y="576.3" width="60.8" height="27.4" fill="#1e4ab0"/>
<rect x="143.9" y="606.5" width="60.8" height="27.4" fill="#edd4a0"/>
<rect x="207.5" y="606.5" width="60.8" height="27.4" fill="#eee6a8"/>
<rect x="271.1" y="606.5" width="60.8" height="27.4" fill="#ccccb0"/>
<rect x="334.7" y="606.5" width="60.8" height="27.4" fill="#a8b4a8"/>
<rect x="398.3" y="606.5" width="60.8" height="27.4" fill="#eee6a8"/>
<rect x="461.9" y="606.5" width="60.8" height="27.4" fill="#e6e3b0"/>
<rect x="525.6" y="606.5" width="60.8" height="27.4" fill="#a8b4a8"/>
<rect x="589.2" y="606.5" width="60.8" height="27.4" fill="#ccccb0"/>
<rect x="652.8" y="606.5" width="60.8" height="27.4" fill="#8898a8"/>
<rect x="716.4" y="606.5" width="60.8" height="27.4" fill="#ccccb0"/>
<rect x="780.0" y="606.5" width="60.8" height="27.4" fill="#e6e3b0"/>
<rect x="843.6" y="606.5" width="60.8" height="27.4" fill="#a8b4a8"/>
<rect x="907.2" y="606.5" width="60.8" height="27.4" fill="#ccccb0"/>
<rect x="970.8" y="606.5" width="60.8" height="27.4" fill="#eee6a8"/>
<rect x="1034.4" y="606.5" width="60.8" height="27.4" fill="#e8b488"/>
<rect x="1098.1" y="606.5" width="60.8" height="27.4" fill="#edd4a0"/>
<rect x="1161.7" y="606.5" width="60.8" height="27.4" fill="#eee6a8"/>
<rect x="1225.3" y="606.5" width="60.8" height="27.4" fill="#e8b488"/>
<rect x="1288.9" y="606.5" width="60.8" height="27.4" fill="#a8b4a8"/>
<rect x="1352.5" y="606.5" width="60.8" height="27.4" fill="#ccccb0"/>
<rect x="1416.1" y="606.5" width="60.8" height="27.4" fill="#a8b4a8"/>
<rect x="1479.7" y="606.5" width="60.8" height="27.4" fill="#a8b4a8"/>
<rect x="1543.3" y="606.5" width="60.8" height="27.4" fill="#a8b4a8"/>
<rect x="143.9" y="636.7" width="60.8" height="27.4" fill="#2c57b0"/>
<rect x="207.5" y="636.7" width="60.8" height="27.4" fill="#edd4a0"/>
<rect x="271.1" y="636.7" width="60.8" height="27.4" fill="#1e4ab0"/>
<rect x="334.7" y="636.7" width="60.8" height="27.4" fill="#2c57b0"/>
<rect x="398.3" y="636.7" width="60.8" height="27.4" fill="#0a32b2"/>
<rect x="461.9" y="636.7" width="60.8" height="27.4" fill="#2c57b0"/>
<rect x="525.6" y="636.7" width="60.8" height="27.4" fill="#0a32b2"/>
<rect x="589.2" y="636.7" width="60.8" height="27.4" fill="#0a32b2"/>
<rect x="652.8" y="636.7" width="60.8" height="27.4" fill="#0a32b2"/>
<rect x="716.4" y="636.7" width="60.8" height="27.4" fill="#2c57b0"/>
<rect x="780.0" y="636.7" width="60.8" height="27.4" fill="#0a32b2"/>
<rect x="843.6" y="636.7" width="60.8" height="27.4" fill="#0a32b2"/>
<rect x="907.2" y="636.7" width="60.8" height="27.4" fill="#0a32b2"/>
<rect x="970.8" y="636.7" width="60.8" height="27.4" fill="#eee6a8"/>
<rect x="1034.4" y="636.7" width="60.8" height="27.4" fill="#edd4a0"/>
<rect x="1098.1" y="636.7" width="60.8" height="27.4" fill="#6a86b0"/>
<rect x="1161.7" y="636.7" width="60.8" height="27.4" fill="#4068b0"/>
<rect x="1225.3" y="636.7" width="60.8" height="27.4" fill="#a8b4a8"/>
<rect x="1288.9" y="636.7" width="60.8" height="27.4" fill="#0a32b2"/>
<rect x="1352.5" y="636.7" width="60.8" height="27.4" fill="#e89474"/>
<rect x="1416.1" y="636.7" width="60.8" height="27.4" fill="#e8b488"/>
<rect x="1479.7" y="636.7" width="60.8" height="27.4" fill="#dc4a3a"/>
<rect x="1543.3" y="636.7" width="60.8" height="27.4" fill="#dc4a3a"/>
<rect x="143.9" y="666.9" width="60.8" height="27.4" fill="#0a32b2"/>
<rect x="207.5" y="666.9" width="60.8" height="27.4" fill="#edd4a0"/>
<rect x="271.1" y="666.9" width="60.8" height="27.4" fill="#1e4ab0"/>
<rect x="334.7" y="666.9" width="60.8" height="27.4" fill="#0a32b2"/>
<rect x="398.3" y="666.9" width="60.8" height="27.4" fill="#2c57b0"/>
<rect x="461.9" y="666.9" width="60.8" height="27.4" fill="#1e4ab0"/>
<rect x="525.6" y="666.9" width="60.8" height="27.4" fill="#2c57b0"/>
<rect x="589.2" y="666.9" width="60.8" height="27.4" fill="#2c57b0"/>
<rect x="652.8" y="666.9" width="60.8" height="27.4" fill="#1e4ab0"/>
<rect x="716.4" y="666.9" width="60.8" height="27.4" fill="#0a32b2"/>
<rect x="780.0" y="666.9" width="60.8" height="27.4" fill="#8898a8"/>
<rect x="843.6" y="666.9" width="60.8" height="27.4" fill="#6a86b0"/>
<rect x="907.2" y="666.9" width="60.8" height="27.4" fill="#0a32b2"/>
<rect x="970.8" y="666.9" width="60.8" height="27.4" fill="#1e4ab0"/>
<rect x="1034.4" y="666.9" width="60.8" height="27.4" fill="#1e4ab0"/>
<rect x="1098.1" y="666.9" width="60.8" height="27.4" fill="#1e4ab0"/>
<rect x="1161.7" y="666.9" width="60.8" height="27.4" fill="#1e4ab0"/>
<rect x="1225.3" y="666.9" width="60.8" height="27.4" fill="#0a32b2"/>
<rect x="1288.9" y="666.9" width="60.8" height="27.4" fill="#6a86b0"/>
<rect x="1352.5" y="666.9" width="60.8" height="27.4" fill="#6a86b0"/>
<rect x="1416.1" y="666.9" width="60.8" height="27.4" fill="#1e4ab0"/>
<rect x="1479.7" y="666.9" width="60.8" height="27.4" fill="#1e4ab0"/>
<rect x="1543.3" y="666.9" width="60.8" height="27.4" fill="#8898a8"/>
<rect x="143.9" y="697.1" width="60.8" height="27.4" fill="#e06c54"/>
<rect x="207.5" y="697.1" width="60.8" height="27.4" fill="#e06c54"/>
<rect x="271.1" y="697.1" width="60.8" height="27.4" fill="#edd4a0"/>
<rect x="334.7" y="697.1" width="60.8" height="27.4" fill="#dc4a3a"/>
<rect x="398.3" y="697.1" width="60.8" height="27.4" fill="#e8b488"/>
<rect x="461.9" y="697.1" width="60.8" height="27.4" fill="#e89474"/>
<rect x="525.6" y="697.1" width="60.8" height="27.4" fill="#e89474"/>
<rect x="589.2" y="697.1" width="60.8" height="27.4" fill="#dc4a3a"/>
<rect x="652.8" y="697.1" width="60.8" height="27.4" fill="#dc4a3a"/>
<rect x="716.4" y="697.1" width="60.8" height="27.4" fill="#e89474"/>
<rect x="780.0" y="697.1" width="60.8" height="27.4" fill="#a8b4a8"/>
<rect x="843.6" y="697.1" width="60.8" height="27.4" fill="#8898a8"/>
<rect x="907.2" y="697.1" width="60.8" height="27.4" fill="#edd4a0"/>
<rect x="970.8" y="697.1" width="60.8" height="27.4" fill="#e06c54"/>
<rect x="1034.4" y="697.1" width="60.8" height="27.4" fill="#e06c54"/>
<rect x="1098.1" y="697.1" width="60.8" height="27.4" fill="#e8b488"/>
<rect x="1161.7" y="697.1" width="60.8" height="27.4" fill="#e8b488"/>
<rect x="1225.3" y="697.1" width="60.8" height="27.4" fill="#a8b4a8"/>
<rect x="1288.9" y="697.1" width="60.8" height="27.4" fill="#6a86b0"/>
<rect x="1352.5" y="697.1" width="60.8" height="27.4" fill="#d83028"/>
<rect x="1416.1" y="697.1" width="60.8" height="27.4" fill="#dc4a3a"/>
<rect x="1479.7" y="697.1" width="60.8" height="27.4" fill="#d83028"/>
<rect x="1543.3" y="697.1" width="60.8" height="27.4" fill="#e06c54"/>
<rect x="143.9" y="727.3" width="60.8" height="27.4" fill="#e89474"/>
<rect x="207.5" y="727.3" width="60.8" height="27.4" fill="#e06c54"/>
<rect x="271.1" y="727.3" width="60.8" height="27.4" fill="#edd4a0"/>
<rect x="334.7" y="727.3" width="60.8" height="27.4" fill="#e06c54"/>
<rect x="398.3" y="727.3" width="60.8" height="27.4" fill="#e8b488"/>
<rect x="461.9" y="727.3" width="60.8" height="27.4" fill="#e89474"/>
<rect x="525.6" y="727.3" width="60.8" height="27.4" fill="#e89474"/>
<rect x="589.2" y="727.3" width="60.8" height="27.4" fill="#dc4a3a"/>
<rect x="652.8" y="727.3" width="60.8" height="27.4" fill="#e06c54"/>
<rect x="716.4" y="727.3" width="60.8" height="27.4" fill="#e8b488"/>
<rect x="780.0" y="727.3" width="60.8" height="27.4" fill="#eee6a8"/>
<rect x="843.6" y="727.3" width="60.8" height="27.4" fill="#eee6a8"/>
<rect x="907.2" y="727.3" width="60.8" height="27.4" fill="#e8b488"/>
<rect x="970.8" y="727.3" width="60.8" height="27.4" fill="#e89474"/>
<rect x="1034.4" y="727.3" width="60.8" height="27.4" fill="#e89474"/>
<rect x="1098.1" y="727.3" width="60.8" height="27.4" fill="#e8b488"/>
<rect x="1161.7" y="727.3" width="60.8" height="27.4" fill="#e6e3b0"/>
<rect x="1225.3" y="727.3" width="60.8" height="27.4" fill="#a8b4a8"/>
<rect x="1288.9" y="727.3" width="60.8" height="27.4" fill="#4068b0"/>
<rect x="1352.5" y="727.3" width="60.8" height="27.4" fill="#e06c54"/>
<rect x="1416.1" y="727.3" width="60.8" height="27.4" fill="#e06c54"/>
<rect x="1479.7" y="727.3" width="60.8" height="27.4" fill="#dc4a3a"/>
<rect x="1543.3" y="727.3" width="60.8" height="27.4" fill="#e06c54"/>
<rect x="143.9" y="757.5" width="60.8" height="27.4" fill="#4068b0"/>
<rect x="207.5" y="757.5" width="60.8" height="27.4" fill="#2c57b0"/>
<rect x="271.1" y="757.5" width="60.8" height="27.4" fill="#2c57b0"/>
<rect x="334.7" y="757.5" width="60.8" height="27.4" fill="#2c57b0"/>
<rect x="398.3" y="757.5" width="60.8" height="27.4" fill="#2c57b0"/>
<rect x="461.9" y="757.5" width="60.8" height="27.4" fill="#1e4ab0"/>
<rect x="525.6" y="757.5" width="60.8" height="27.4" fill="#2c57b0"/>
<rect x="589.2" y="757.5" width="60.8" height="27.4" fill="#1e4ab0"/>
<rect x="652.8" y="757.5" width="60.8" height="27.4" fill="#2c57b0"/>
<rect x="716.4" y="757.5" width="60.8" height="27.4" fill="#2c57b0"/>
<rect x="780.0" y="757.5" width="60.8" height="27.4" fill="#2c57b0"/>
<rect x="843.6" y="757.5" width="60.8" height="27.4" fill="#2c57b0"/>
<rect x="907.2" y="757.5" width="60.8" height="27.4" fill="#2c57b0"/>
<rect x="970.8" y="757.5" width="60.8" height="27.4" fill="#2c57b0"/>
<rect x="1034.4" y="757.5" width="60.8" height="27.4" fill="#2c57b0"/>
<rect x="1098.1" y="757.5" width="60.8" height="27.4" fill="#2c57b0"/>
<rect x="1161.7" y="757.5" width="60.8" height="27.4" fill="#2c57b0"/>
<rect x="1225.3" y="757.5" width="60.8" height="27.4" fill="#2c57b0"/>
<rect x="1288.9" y="757.5" width="60.8" height="27.4" fill="#2c57b0"/>
<rect x="1352.5" y="757.5" width="60.8" height="27.4" fill="#2c57b0"/>
<rect x="1416.1" y="757.5" width="60.8" height="27.4" fill="#2c57b0"/>
<rect x="1479.7" y="757.5" width="60.8" height="27.4" fill="#2c57b0"/>
<rect x="1543.3" y="757.5" width="60.8" height="27.4" fill="#2c57b0"/>
<rect x="143.9" y="787.7" width="60.8" height="27.4" fill="#2c57b0"/>
<rect x="207.5" y="787.7" width="60.8" height="27.4" fill="#2c57b0"/>
<rect x="271.1" y="787.7" width="60.8" height="27.4" fill="#2c57b0"/>
<rect x="334.7" y="787.7" width="60.8" height="27.4" fill="#2c57b0"/>
<rect x="398.3" y="787.7" width="60.8" height="27.4" fill="#2c57b0"/>
<rect x="461.9" y="787.7" width="60.8" height="27.4" fill="#2c57b0"/>
<rect x="525.6" y="787.7" width="60.8" height="27.4" fill="#2c57b0"/>
<rect x="589.2" y="787.7" width="60.8" height="27.4" fill="#6a86b0"/>
<rect x="652.8" y="787.7" width="60.8" height="27.4" fill="#2c57b0"/>
<rect x="716.4" y="787.7" width="60.8" height="27.4" fill="#2c57b0"/>
<rect x="780.0" y="787.7" width="60.8" height="27.4" fill="#2c57b0"/>
<rect x="843.6" y="787.7" width="60.8" height="27.4" fill="#2c57b0"/>
<rect x="907.2" y="787.7" width="60.8" height="27.4" fill="#2c57b0"/>
<rect x="970.8" y="787.7" width="60.8" height="27.4" fill="#2c57b0"/>
<rect x="1034.4" y="787.7" width="60.8" height="27.4" fill="#2c57b0"/>
<rect x="1098.1" y="787.7" width="60.8" height="27.4" fill="#2c57b0"/>
<rect x="1161.7" y="787.7" width="60.8" height="27.4" fill="#2c57b0"/>
<rect x="1225.3" y="787.7" width="60.8" height="27.4" fill="#2c57b0"/>
<rect x="1288.9" y="787.7" width="60.8" height="27.4" fill="#2c57b0"/>
<rect x="1352.5" y="787.7" width="60.8" height="27.4" fill="#2c57b0"/>
<rect x="1416.1" y="787.7" width="60.8" height="27.4" fill="#2c57b0"/>
<rect x="1479.7" y="787.7" width="60.8" height="27.4" fill="#2c57b0"/>
<rect x="1543.3" y="787.7" width="60.8" height="27.4" fill="#2c57b0"/>
<rect x="143.9" y="817.9" width="60.8" height="27.4" fill="#2c57b0"/>
<rect x="207.5" y="817.9" width="60.8" height="27.4" fill="#2c57b0"/>
<rect x="271.1" y="817.9" width="60.8" height="27.4" fill="#2c57b0"/>
<rect x="334.7" y="817.9" width="60.8" height="27.4" fill="#2c57b0"/>
<rect x="398.3" y="817.9" width="60.8" height="27.4" fill="#2c57b0"/>
<rect x="461.9" y="817.9" width="60.8" height="27.4" fill="#2c57b0"/>
<rect x="525.6" y="817.9" width="60.8" height="27.4" fill="#2c57b0"/>
<rect x="589.2" y="817.9" width="60.8" height="27.4" fill="#2c57b0"/>
<rect x="652.8" y="817.9" width="60.8" height="27.4" fill="#2c57b0"/>
<rect x="716.4" y="817.9" width="60.8" height="27.4" fill="#2c57b0"/>
<rect x="780.0" y="817.9" width="60.8" height="27.4" fill="#2c57b0"/>
<rect x="843.6" y="817.9" width="60.8" height="27.4" fill="#2c57b0"/>
<rect x="907.2" y="817.9" width="60.8" height="27.4" fill="#2c57b0"/>
<rect x="970.8" y="817.9" width="60.8" height="27.4" fill="#2c57b0"/>
<rect x="1034.4" y="817.9" width="60.8" height="27.4" fill="#2c57b0"/>
<rect x="1098.1" y="817.9" width="60.8" height="27.4" fill="#2c57b0"/>
<rect x="1161.7" y="817.9" width="60.8" height="27.4" fill="#2c57b0"/>
<rect x="1225.3" y="817.9" width="60.8" height="27.4" fill="#2c57b0"/>
<rect x="1288.9" y="817.9" width="60.8" height="27.4" fill="#2c57b0"/>
<rect x="1352.5" y="817.9" width="60.8" height="27.4" fill="#2c57b0"/>
<rect x="1416.1" y="817.9" width="60.8" height="27.4" fill="#2c57b0"/>
<rect x="1479.7" y="817.9" width="60.8" height="27.4" fill="#2c57b0"/>
<rect x="1543.3" y="817.9" width="60.8" height="27.4" fill="#2c57b0"/>
<rect x="143.9" y="848.1" width="60.8" height="27.4" fill="#1e4ab0"/>
<rect x="207.5" y="848.1" width="60.8" height="27.4" fill="#2c57b0"/>
<rect x="271.1" y="848.1" width="60.8" height="27.4" fill="#2c57b0"/>
<rect x="334.7" y="848.1" width="60.8" height="27.4" fill="#2c57b0"/>
<rect x="398.3" y="848.1" width="60.8" height="27.4" fill="#2c57b0"/>
<rect x="461.9" y="848.1" width="60.8" height="27.4" fill="#2c57b0"/>
<rect x="525.6" y="848.1" width="60.8" height="27.4" fill="#2c57b0"/>
<rect x="589.2" y="848.1" width="60.8" height="27.4" fill="#0a32b2"/>
<rect x="652.8" y="848.1" width="60.8" height="27.4" fill="#0418ac"/>
<rect x="716.4" y="848.1" width="60.8" height="27.4" fill="#2c57b0"/>
<rect x="780.0" y="848.1" width="60.8" height="27.4" fill="#2c57b0"/>
<rect x="843.6" y="848.1" width="60.8" height="27.4" fill="#2c57b0"/>
<rect x="907.2" y="848.1" width="60.8" height="27.4" fill="#2c57b0"/>
<rect x="970.8" y="848.1" width="60.8" height="27.4" fill="#2c57b0"/>
<rect x="1034.4" y="848.1" width="60.8" height="27.4" fill="#0a32b2"/>
<rect x="1098.1" y="848.1" width="60.8" height="27.4" fill="#2c57b0"/>
<rect x="1161.7" y="848.1" width="60.8" height="27.4" fill="#2c57b0"/>
<rect x="1225.3" y="848.1" width="60.8" height="27.4" fill="#1e4ab0"/>
<rect x="1288.9" y="848.1" width="60.8" height="27.4" fill="#2c57b0"/>
<rect x="1352.5" y="848.1" width="60.8" height="27.4" fill="#0418ac"/>
<rect x="1416.1" y="848.1" width="60.8" height="27.4" fill="#1e4ab0"/>
<rect x="1479.7" y="848.1" width="60.8" height="27.4" fill="#0418ac"/>
<rect x="1543.3" y="848.1" width="60.8" height="27.4" fill="#6a86b0"/>
<rect x="143.9" y="878.3" width="60.8" height="27.4" fill="#e8b488"/>
<rect x="207.5" y="878.3" width="60.8" height="27.4" fill="#e8b488"/>
<rect x="271.1" y="878.3" width="60.8" height="27.4" fill="#ccccb0"/>
<rect x="334.7" y="878.3" width="60.8" height="27.4" fill="#e8b488"/>
<rect x="398.3" y="878.3" width="60.8" height="27.4" fill="#e8b488"/>
<rect x="461.9" y="878.3" width="60.8" height="27.4" fill="#e8b488"/>
<rect x="525.6" y="878.3" width="60.8" height="27.4" fill="#e8b488"/>
<rect x="589.2" y="878.3" width="60.8" height="27.4" fill="#edd4a0"/>
<rect x="652.8" y="878.3" width="60.8" height="27.4" fill="#e8b488"/>
<rect x="716.4" y="878.3" width="60.8" height="27.4" fill="#edd4a0"/>
<rect x="780.0" y="878.3" width="60.8" height="27.4" fill="#eee6a8"/>
<rect x="843.6" y="878.3" width="60.8" height="27.4" fill="#eee6a8"/>
<rect x="907.2" y="878.3" width="60.8" height="27.4" fill="#eee6a8"/>
<rect x="970.8" y="878.3" width="60.8" height="27.4" fill="#e8b488"/>
<rect x="1034.4" y="878.3" width="60.8" height="27.4" fill="#e8b488"/>
<rect x="1098.1" y="878.3" width="60.8" height="27.4" fill="#e8b488"/>
<rect x="1161.7" y="878.3" width="60.8" height="27.4" fill="#e8b488"/>
<rect x="1225.3" y="878.3" width="60.8" height="27.4" fill="#e8b488"/>
<rect x="1288.9" y="878.3" width="60.8" height="27.4" fill="#e6e3b0"/>
<rect x="1352.5" y="878.3" width="60.8" height="27.4" fill="#e89474"/>
<rect x="1416.1" y="878.3" width="60.8" height="27.4" fill="#e89474"/>
<rect x="1479.7" y="878.3" width="60.8" height="27.4" fill="#e89474"/>
<rect x="1543.3" y="878.3" width="60.8" height="27.4" fill="#e8b488"/>
<rect x="143.9" y="908.5" width="60.8" height="27.4" fill="#edd4a0"/>
<rect x="207.5" y="908.5" width="60.8" height="27.4" fill="#e8b488"/>
<rect x="271.1" y="908.5" width="60.8" height="27.4" fill="#ccccb0"/>
<rect x="334.7" y="908.5" width="60.8" height="27.4" fill="#e8b488"/>
<rect x="398.3" y="908.5" width="60.8" height="27.4" fill="#e8b488"/>
<rect x="461.9" y="908.5" width="60.8" height="27.4" fill="#e8b488"/>
<rect x="525.6" y="908.5" width="60.8" height="27.4" fill="#e8b488"/>
<rect x="589.2" y="908.5" width="60.8" height="27.4" fill="#eee6a8"/>
<rect x="652.8" y="908.5" width="60.8" height="27.4" fill="#e8b488"/>
<rect x="716.4" y="908.5" width="60.8" height="27.4" fill="#edd4a0"/>
<rect x="780.0" y="908.5" width="60.8" height="27.4" fill="#e6e3b0"/>
<rect x="843.6" y="908.5" width="60.8" height="27.4" fill="#e6e3b0"/>
<rect x="907.2" y="908.5" width="60.8" height="27.4" fill="#ccccb0"/>
<rect x="970.8" y="908.5" width="60.8" height="27.4" fill="#e8b488"/>
<rect x="1034.4" y="908.5" width="60.8" height="27.4" fill="#eee6a8"/>
<rect x="1098.1" y="908.5" width="60.8" height="27.4" fill="#e8b488"/>
<rect x="1161.7" y="908.5" width="60.8" height="27.4" fill="#edd4a0"/>
<rect x="1225.3" y="908.5" width="60.8" height="27.4" fill="#eee6a8"/>
<rect x="1288.9" y="908.5" width="60.8" height="27.4" fill="#ccccb0"/>
<rect x="1352.5" y="908.5" width="60.8" height="27.4" fill="#eee6a8"/>
<rect x="1416.1" y="908.5" width="60.8" height="27.4" fill="#e8b488"/>
<rect x="1479.7" y="908.5" width="60.8" height="27.4" fill="#e89474"/>
<rect x="1543.3" y="908.5" width="60.8" height="27.4" fill="#e89474"/>
<rect x="143.9" y="938.7" width="60.8" height="27.4" fill="#a8b4a8"/>
<rect x="207.5" y="938.7" width="60.8" height="27.4" fill="#a8b4a8"/>
<rect x="271.1" y="938.7" width="60.8" height="27.4" fill="#6a86b0"/>
<rect x="334.7" y="938.7" width="60.8" height="27.4" fill="#a8b4a8"/>
<rect x="398.3" y="938.7" width="60.8" height="27.4" fill="#a8b4a8"/>
<rect x="461.9" y="938.7" width="60.8" height="27.4" fill="#a8b4a8"/>
<rect x="525.6" y="938.7" width="60.8" height="27.4" fill="#8898a8"/>
<rect x="589.2" y="938.7" width="60.8" height="27.4" fill="#a8b4a8"/>
<rect x="652.8" y="938.7" width="60.8" height="27.4" fill="#8898a8"/>
<rect x="716.4" y="938.7" width="60.8" height="27.4" fill="#8898a8"/>
<rect x="780.0" y="938.7" width="60.8" height="27.4" fill="#a8b4a8"/>
<rect x="843.6" y="938.7" width="60.8" height="27.4" fill="#8898a8"/>
<rect x="907.2" y="938.7" width="60.8" height="27.4" fill="#a8b4a8"/>
<rect x="970.8" y="938.7" width="60.8" height="27.4" fill="#8898a8"/>
<rect x="1034.4" y="938.7" width="60.8" height="27.4" fill="#a8b4a8"/>
<rect x="1098.1" y="938.7" width="60.8" height="27.4" fill="#a8b4a8"/>
<rect x="1161.7" y="938.7" width="60.8" height="27.4" fill="#a8b4a8"/>
<rect x="1225.3" y="938.7" width="60.8" height="27.4" fill="#8898a8"/>
<rect x="1288.9" y="938.7" width="60.8" height="27.4" fill="#4068b0"/>
<rect x="1352.5" y="938.7" width="60.8" height="27.4" fill="#a8b4a8"/>
<rect x="1416.1" y="938.7" width="60.8" height="27.4" fill="#a8b4a8"/>
<rect x="1479.7" y="938.7" width="60.8" height="27.4" fill="#a8b4a8"/>
<rect x="1543.3" y="938.7" width="60.8" height="27.4" fill="#8898a8"/>
<rect x="143.9" y="968.9" width="60.8" height="27.4" fill="#8898a8"/>
<rect x="207.5" y="968.9" width="60.8" height="27.4" fill="#6a86b0"/>
<rect x="271.1" y="968.9" width="60.8" height="27.4" fill="#6a86b0"/>
<rect x="334.7" y="968.9" width="60.8" height="27.4" fill="#6a86b0"/>
<rect x="398.3" y="968.9" width="60.8" height="27.4" fill="#4068b0"/>
<rect x="461.9" y="968.9" width="60.8" height="27.4" fill="#6a86b0"/>
<rect x="525.6" y="968.9" width="60.8" height="27.4" fill="#1e4ab0"/>
<rect x="589.2" y="968.9" width="60.8" height="27.4" fill="#8898a8"/>
<rect x="652.8" y="968.9" width="60.8" height="27.4" fill="#8898a8"/>
<rect x="716.4" y="968.9" width="60.8" height="27.4" fill="#8898a8"/>
<rect x="780.0" y="968.9" width="60.8" height="27.4" fill="#8898a8"/>
<rect x="843.6" y="968.9" width="60.8" height="27.4" fill="#4068b0"/>
<rect x="907.2" y="968.9" width="60.8" height="27.4" fill="#6a86b0"/>
<rect x="970.8" y="968.9" width="60.8" height="27.4" fill="#8898a8"/>
<rect x="1034.4" y="968.9" width="60.8" height="27.4" fill="#a8b4a8"/>
<rect x="1098.1" y="968.9" width="60.8" height="27.4" fill="#a8b4a8"/>
<rect x="1161.7" y="968.9" width="60.8" height="27.4" fill="#6a86b0"/>
<rect x="1225.3" y="968.9" width="60.8" height="27.4" fill="#a8b4a8"/>
<rect x="1288.9" y="968.9" width="60.8" height="27.4" fill="#1e4ab0"/>
<rect x="1352.5" y="968.9" width="60.8" height="27.4" fill="#a8b4a8"/>
<rect x="1416.1" y="968.9" width="60.8" height="27.4" fill="#8898a8"/>
<rect x="1479.7" y="968.9" width="60.8" height="27.4" fill="#a8b4a8"/>
<rect x="1543.3" y="968.9" width="60.8" height="27.4" fill="#8898a8"/>
<rect x="143.9" y="999.1" width="60.8" height="27.4" fill="#edd4a0"/>
<rect x="207.5" y="999.1" width="60.8" height="27.4" fill="#eee6a8"/>
<rect x="271.1" y="999.1" width="60.8" height="27.4" fill="#a8b4a8"/>
<rect x="334.7" y="999.1" width="60.8" height="27.4" fill="#e6e3b0"/>
<rect x="398.3" y="999.1" width="60.8" height="27.4" fill="#e6e3b0"/>
<rect x="461.9" y="999.1" width="60.8" height="27.4" fill="#eee6a8"/>
<rect x="525.6" y="999.1" width="60.8" height="27.4" fill="#eee6a8"/>
<rect x="589.2" y="999.1" width="60.8" height="27.4" fill="#a8b4a8"/>
<rect x="652.8" y="999.1" width="60.8" height="27.4" fill="#e6e3b0"/>
<rect x="716.4" y="999.1" width="60.8" height="27.4" fill="#eee6a8"/>
<rect x="780.0" y="999.1" width="60.8" height="27.4" fill="#e8b488"/>
<rect x="843.6" y="999.1" width="60.8" height="27.4" fill="#e8b488"/>
<rect x="907.2" y="999.1" width="60.8" height="27.4" fill="#edd4a0"/>
<rect x="970.8" y="999.1" width="60.8" height="27.4" fill="#e8b488"/>
<rect x="1034.4" y="999.1" width="60.8" height="27.4" fill="#e8b488"/>
<rect x="1098.1" y="999.1" width="60.8" height="27.4" fill="#e8b488"/>
<rect x="1161.7" y="999.1" width="60.8" height="27.4" fill="#edd4a0"/>
<rect x="1225.3" y="999.1" width="60.8" height="27.4" fill="#e06c54"/>
<rect x="1288.9" y="999.1" width="60.8" height="27.4" fill="#ccccb0"/>
<rect x="1352.5" y="999.1" width="60.8" height="27.4" fill="#e6e3b0"/>
<rect x="1416.1" y="999.1" width="60.8" height="27.4" fill="#e6e3b0"/>
<rect x="1479.7" y="999.1" width="60.8" height="27.4" fill="#eee6a8"/>
<rect x="1543.3" y="999.1" width="60.8" height="27.4" fill="#ccccb0"/>
<rect x="143.9" y="1029.3" width="60.8" height="27.4" fill="#eee6a8"/>
<rect x="207.5" y="1029.3" width="60.8" height="27.4" fill="#e6e3b0"/>
<rect x="271.1" y="1029.3" width="60.8" height="27.4" fill="#a8b4a8"/>
<rect x="334.7" y="1029.3" width="60.8" height="27.4" fill="#ccccb0"/>
<rect x="398.3" y="1029.3" width="60.8" height="27.4" fill="#eee6a8"/>
<rect x="461.9" y="1029.3" width="60.8" height="27.4" fill="#edd4a0"/>
<rect x="525.6" y="1029.3" width="60.8" height="27.4" fill="#eee6a8"/>
<rect x="589.2" y="1029.3" width="60.8" height="27.4" fill="#e6e3b0"/>
<rect x="652.8" y="1029.3" width="60.8" height="27.4" fill="#e6e3b0"/>
<rect x="716.4" y="1029.3" width="60.8" height="27.4" fill="#edd4a0"/>
<rect x="780.0" y="1029.3" width="60.8" height="27.4" fill="#e8b488"/>
<rect x="843.6" y="1029.3" width="60.8" height="27.4" fill="#e8b488"/>
<rect x="907.2" y="1029.3" width="60.8" height="27.4" fill="#e8b488"/>
<rect x="970.8" y="1029.3" width="60.8" height="27.4" fill="#edd4a0"/>
<rect x="1034.4" y="1029.3" width="60.8" height="27.4" fill="#e8b488"/>
<rect x="1098.1" y="1029.3" width="60.8" height="27.4" fill="#e8b488"/>
<rect x="1161.7" y="1029.3" width="60.8" height="27.4" fill="#edd4a0"/>
<rect x="1225.3" y="1029.3" width="60.8" height="27.4" fill="#e89474"/>
<rect x="1288.9" y="1029.3" width="60.8" height="27.4" fill="#e8b488"/>
<rect x="1352.5" y="1029.3" width="60.8" height="27.4" fill="#ccccb0"/>
<rect x="1416.1" y="1029.3" width="60.8" height="27.4" fill="#ccccb0"/>
<rect x="1479.7" y="1029.3" width="60.8" height="27.4" fill="#a8b4a8"/>
<rect x="1543.3" y="1029.3" width="60.8" height="27.4" fill="#ccccb0"/>
<rect x="143.9" y="1059.5" width="60.8" height="27.4" fill="#e89474"/>
<rect x="207.5" y="1059.5" width="60.8" height="27.4" fill="#e89474"/>
<rect x="271.1" y="1059.5" width="60.8" height="27.4" fill="#e6e3b0"/>
<rect x="334.7" y="1059.5" width="60.8" height="27.4" fill="#e06c54"/>
<rect x="398.3" y="1059.5" width="60.8" height="27.4" fill="#e89474"/>
<rect x="461.9" y="1059.5" width="60.8" height="27.4" fill="#e89474"/>
<rect x="525.6" y="1059.5" width="60.8" height="27.4" fill="#e89474"/>
<rect x="589.2" y="1059.5" width="60.8" height="27.4" fill="#e06c54"/>
<rect x="652.8" y="1059.5" width="60.8" height="27.4" fill="#e06c54"/>
<rect x="716.4" y="1059.5" width="60.8" height="27.4" fill="#e89474"/>
<rect x="780.0" y="1059.5" width="60.8" height="27.4" fill="#e8b488"/>
<rect x="843.6" y="1059.5" width="60.8" height="27.4" fill="#eee6a8"/>
<rect x="907.2" y="1059.5" width="60.8" height="27.4" fill="#eee6a8"/>
<rect x="970.8" y="1059.5" width="60.8" height="27.4" fill="#e8b488"/>
<rect x="1034.4" y="1059.5" width="60.8" height="27.4" fill="#e89474"/>
<rect x="1098.1" y="1059.5" width="60.8" height="27.4" fill="#e89474"/>
<rect x="1161.7" y="1059.5" width="60.8" height="27.4" fill="#e89474"/>
<rect x="1225.3" y="1059.5" width="60.8" height="27.4" fill="#e8b488"/>
<rect x="1288.9" y="1059.5" width="60.8" height="27.4" fill="#ccccb0"/>
<rect x="1352.5" y="1059.5" width="60.8" height="27.4" fill="#e89474"/>
<rect x="1416.1" y="1059.5" width="60.8" height="27.4" fill="#e06c54"/>
<rect x="1479.7" y="1059.5" width="60.8" height="27.4" fill="#e06c54"/>
<rect x="1543.3" y="1059.5" width="60.8" height="27.4" fill="#dc4a3a"/>
<rect x="143.9" y="1089.7" width="60.8" height="27.4" fill="#e89474"/>
<rect x="207.5" y="1089.7" width="60.8" height="27.4" fill="#e89474"/>
<rect x="271.1" y="1089.7" width="60.8" height="27.4" fill="#e6e3b0"/>
<rect x="334.7" y="1089.7" width="60.8" height="27.4" fill="#e06c54"/>
<rect x="398.3" y="1089.7" width="60.8" height="27.4" fill="#e89474"/>
<rect x="461.9" y="1089.7" width="60.8" height="27.4" fill="#e89474"/>
<rect x="525.6" y="1089.7" width="60.8" height="27.4" fill="#e89474"/>
<rect x="589.2" y="1089.7" width="60.8" height="27.4" fill="#e06c54"/>
<rect x="652.8" y="1089.7" width="60.8" height="27.4" fill="#e06c54"/>
<rect x="716.4" y="1089.7" width="60.8" height="27.4" fill="#e89474"/>
<rect x="780.0" y="1089.7" width="60.8" height="27.4" fill="#e8b488"/>
<rect x="843.6" y="1089.7" width="60.8" height="27.4" fill="#e8b488"/>
<rect x="907.2" y="1089.7" width="60.8" height="27.4" fill="#e8b488"/>
<rect x="970.8" y="1089.7" width="60.8" height="27.4" fill="#e8b488"/>
<rect x="1034.4" y="1089.7" width="60.8" height="27.4" fill="#e89474"/>
<rect x="1098.1" y="1089.7" width="60.8" height="27.4" fill="#e06c54"/>
<rect x="1161.7" y="1089.7" width="60.8" height="27.4" fill="#e89474"/>
<rect x="1225.3" y="1089.7" width="60.8" height="27.4" fill="#e8b488"/>
<rect x="1288.9" y="1089.7" width="60.8" height="27.4" fill="#e6e3b0"/>
<rect x="1352.5" y="1089.7" width="60.8" height="27.4" fill="#e89474"/>
<rect x="1416.1" y="1089.7" width="60.8" height="27.4" fill="#e06c54"/>
<rect x="1479.7" y="1089.7" width="60.8" height="27.4" fill="#e06c54"/>
<rect x="1543.3" y="1089.7" width="60.8" height="27.4" fill="#e06c54"/>
<rect x="143.9" y="1119.9" width="60.8" height="27.4" fill="#1e4ab0"/>
<rect x="207.5" y="1119.9" width="60.8" height="27.4" fill="#0418ac"/>
<rect x="271.1" y="1119.9" width="60.8" height="27.4" fill="#2c57b0"/>
<rect x="334.7" y="1119.9" width="60.8" height="27.4" fill="#1e4ab0"/>
<rect x="398.3" y="1119.9" width="60.8" height="27.4" fill="#2c57b0"/>
<rect x="461.9" y="1119.9" width="60.8" height="27.4" fill="#1e4ab0"/>
<rect x="525.6" y="1119.9" width="60.8" height="27.4" fill="#4068b0"/>
<rect x="589.2" y="1119.9" width="60.8" height="27.4" fill="#2c57b0"/>
<rect x="652.8" y="1119.9" width="60.8" height="27.4" fill="#0a32b2"/>
<rect x="716.4" y="1119.9" width="60.8" height="27.4" fill="#0418ac"/>
<rect x="780.0" y="1119.9" width="60.8" height="27.4" fill="#1e4ab0"/>
<rect x="843.6" y="1119.9" width="60.8" height="27.4" fill="#0a32b2"/>
<rect x="907.2" y="1119.9" width="60.8" height="27.4" fill="#2c57b0"/>
<rect x="970.8" y="1119.9" width="60.8" height="27.4" fill="#2c57b0"/>
<rect x="1034.4" y="1119.9" width="60.8" height="27.4" fill="#0418ac"/>
<rect x="1098.1" y="1119.9" width="60.8" height="27.4" fill="#6a86b0"/>
<rect x="1161.7" y="1119.9" width="60.8" height="27.4" fill="#1e4ab0"/>
<rect x="1225.3" y="1119.9" width="60.8" height="27.4" fill="#2c57b0"/>
<rect x="1288.9" y="1119.9" width="60.8" height="27.4" fill="#2c57b0"/>
<rect x="1352.5" y="1119.9" width="60.8" height="27.4" fill="#6a86b0"/>
<rect x="1416.1" y="1119.9" width="60.8" height="27.4" fill="#0a32b2"/>
<rect x="1479.7" y="1119.9" width="60.8" height="27.4" fill="#1e4ab0"/>
<rect x="1543.3" y="1119.9" width="60.8" height="27.4" fill="#6a86b0"/>
<rect x="143.9" y="1150.1" width="60.8" height="27.4" fill="#ccccb0"/>
<rect x="207.5" y="1150.1" width="60.8" height="27.4" fill="#a8b4a8"/>
<rect x="271.1" y="1150.1" width="60.8" height="27.4" fill="#1e4ab0"/>
<rect x="334.7" y="1150.1" width="60.8" height="27.4" fill="#8898a8"/>
<rect x="398.3" y="1150.1" width="60.8" height="27.4" fill="#8898a8"/>
<rect x="461.9" y="1150.1" width="60.8" height="27.4" fill="#a8b4a8"/>
<rect x="525.6" y="1150.1" width="60.8" height="27.4" fill="#4068b0"/>
<rect x="589.2" y="1150.1" width="60.8" height="27.4" fill="#2c57b0"/>
<rect x="652.8" y="1150.1" width="60.8" height="27.4" fill="#8898a8"/>
<rect x="716.4" y="1150.1" width="60.8" height="27.4" fill="#8898a8"/>
<rect x="780.0" y="1150.1" width="60.8" height="27.4" fill="#6a86b0"/>
<rect x="843.6" y="1150.1" width="60.8" height="27.4" fill="#0a32b2"/>
<rect x="907.2" y="1150.1" width="60.8" height="27.4" fill="#6a86b0"/>
<rect x="970.8" y="1150.1" width="60.8" height="27.4" fill="#a8b4a8"/>
<rect x="1034.4" y="1150.1" width="60.8" height="27.4" fill="#e6e3b0"/>
<rect x="1098.1" y="1150.1" width="60.8" height="27.4" fill="#eee6a8"/>
<rect x="1161.7" y="1150.1" width="60.8" height="27.4" fill="#a8b4a8"/>
<rect x="1225.3" y="1150.1" width="60.8" height="27.4" fill="#ccccb0"/>
<rect x="1288.9" y="1150.1" width="60.8" height="27.4" fill="#4068b0"/>
<rect x="1352.5" y="1150.1" width="60.8" height="27.4" fill="#e6e3b0"/>
<rect x="1416.1" y="1150.1" width="60.8" height="27.4" fill="#a8b4a8"/>
<rect x="1479.7" y="1150.1" width="60.8" height="27.4" fill="#e6e3b0"/>
<rect x="1543.3" y="1150.1" width="60.8" height="27.4" fill="#8898a8"/>
<rect x="132.6" y="1365.9" width="54.0" height="27.2" fill="#4068b0"/>
<rect x="189.4" y="1365.9" width="54.0" height="27.2" fill="#4068b0"/>
<rect x="246.2" y="1365.9" width="54.0" height="27.2" fill="#0418ac"/>
<rect x="303.0" y="1365.9" width="54.0" height="27.2" fill="#2c57b0"/>
<rect x="359.8" y="1365.9" width="54.0" height="27.2" fill="#0a32b2"/>
<rect x="416.6" y="1365.9" width="54.0" height="27.2" fill="#4068b0"/>
<rect x="473.5" y="1365.9" width="54.0" height="27.2" fill="#1e4ab0"/>
<rect x="530.3" y="1365.9" width="54.0" height="27.2" fill="#1e4ab0"/>
<rect x="587.1" y="1365.9" width="54.0" height="27.2" fill="#0418ac"/>
<rect x="643.9" y="1365.9" width="54.0" height="27.2" fill="#1e4ab0"/>
<rect x="700.7" y="1365.9" width="54.0" height="27.2" fill="#2c57b0"/>
<rect x="757.5" y="1365.9" width="54.0" height="27.2" fill="#0a32b2"/>
<rect x="814.3" y="1365.9" width="54.0" height="27.2" fill="#0418ac"/>
<rect x="871.1" y="1365.9" width="54.0" height="27.2" fill="#0a32b2"/>
<rect x="927.9" y="1365.9" width="54.0" height="27.2" fill="#2c57b0"/>
<rect x="984.8" y="1365.9" width="54.0" height="27.2" fill="#4068b0"/>
<rect x="1041.6" y="1365.9" width="54.0" height="27.2" fill="#1e4ab0"/>
<rect x="1098.4" y="1365.9" width="54.0" height="27.2" fill="#1e4ab0"/>
<rect x="1155.2" y="1365.9" width="54.0" height="27.2" fill="#4068b0"/>
<rect x="1212.0" y="1365.9" width="54.0" height="27.2" fill="#2c57b0"/>
<rect x="1268.8" y="1365.9" width="54.0" height="27.2" fill="#2c57b0"/>
<rect x="1325.6" y="1365.9" width="54.0" height="27.2" fill="#0a32b2"/>
<rect x="1382.4" y="1365.9" width="54.0" height="27.2" fill="#0a32b2"/>
<rect x="1439.2" y="1365.9" width="54.0" height="27.2" fill="#0a32b2"/>
<rect x="1496.0" y="1365.9" width="54.0" height="27.2" fill="#2c57b0"/>
<rect x="1552.9" y="1365.9" width="54.0" height="27.2" fill="#1e4ab0"/>
<rect x="132.6" y="1395.9" width="54.0" height="27.2" fill="#8898a8"/>
<rect x="189.4" y="1395.9" width="54.0" height="27.2" fill="#8898a8"/>
<rect x="246.2" y="1395.9" width="54.0" height="27.2" fill="#0a32b2"/>
<rect x="303.0" y="1395.9" width="54.0" height="27.2" fill="#0418ac"/>
<rect x="359.8" y="1395.9" width="54.0" height="27.2" fill="#2c57b0"/>
<rect x="416.6" y="1395.9" width="54.0" height="27.2" fill="#4068b0"/>
<rect x="473.5" y="1395.9" width="54.0" height="27.2" fill="#4068b0"/>
<rect x="530.3" y="1395.9" width="54.0" height="27.2" fill="#1e4ab0"/>
<rect x="587.1" y="1395.9" width="54.0" height="27.2" fill="#0a32b2"/>
<rect x="643.9" y="1395.9" width="54.0" height="27.2" fill="#1e4ab0"/>
<rect x="700.7" y="1395.9" width="54.0" height="27.2" fill="#1e4ab0"/>
<rect x="757.5" y="1395.9" width="54.0" height="27.2" fill="#4068b0"/>
<rect x="814.3" y="1395.9" width="54.0" height="27.2" fill="#2c57b0"/>
<rect x="871.1" y="1395.9" width="54.0" height="27.2" fill="#2c57b0"/>
<rect x="927.9" y="1395.9" width="54.0" height="27.2" fill="#2c57b0"/>
<rect x="984.8" y="1395.9" width="54.0" height="27.2" fill="#0a32b2"/>
<rect x="1041.6" y="1395.9" width="54.0" height="27.2" fill="#0a32b2"/>
<rect x="1098.4" y="1395.9" width="54.0" height="27.2" fill="#4068b0"/>
<rect x="1155.2" y="1395.9" width="54.0" height="27.2" fill="#6a86b0"/>
<rect x="1212.0" y="1395.9" width="54.0" height="27.2" fill="#2c57b0"/>
<rect x="1268.8" y="1395.9" width="54.0" height="27.2" fill="#2c57b0"/>
<rect x="1325.6" y="1395.9" width="54.0" height="27.2" fill="#6a86b0"/>
<rect x="1382.4" y="1395.9" width="54.0" height="27.2" fill="#4068b0"/>
<rect x="1439.2" y="1395.9" width="54.0" height="27.2" fill="#8898a8"/>
<rect x="1496.0" y="1395.9" width="54.0" height="27.2" fill="#2c57b0"/>
<rect x="1552.9" y="1395.9" width="54.0" height="27.2" fill="#1e4ab0"/>
<rect x="132.6" y="1425.9" width="54.0" height="27.2" fill="#8898a8"/>
<rect x="189.4" y="1425.9" width="54.0" height="27.2" fill="#0a32b2"/>
<rect x="246.2" y="1425.9" width="54.0" height="27.2" fill="#2c57b0"/>
<rect x="303.0" y="1425.9" width="54.0" height="27.2" fill="#2c57b0"/>
<rect x="359.8" y="1425.9" width="54.0" height="27.2" fill="#2c57b0"/>
<rect x="416.6" y="1425.9" width="54.0" height="27.2" fill="#1e4ab0"/>
<rect x="473.5" y="1425.9" width="54.0" height="27.2" fill="#4068b0"/>
<rect x="530.3" y="1425.9" width="54.0" height="27.2" fill="#1e4ab0"/>
<rect x="587.1" y="1425.9" width="54.0" height="27.2" fill="#0a32b2"/>
<rect x="643.9" y="1425.9" width="54.0" height="27.2" fill="#0a32b2"/>
<rect x="700.7" y="1425.9" width="54.0" height="27.2" fill="#0a32b2"/>
<rect x="757.5" y="1425.9" width="54.0" height="27.2" fill="#2c57b0"/>
<rect x="814.3" y="1425.9" width="54.0" height="27.2" fill="#6a86b0"/>
<rect x="871.1" y="1425.9" width="54.0" height="27.2" fill="#2c57b0"/>
<rect x="927.9" y="1425.9" width="54.0" height="27.2" fill="#0a32b2"/>
<rect x="984.8" y="1425.9" width="54.0" height="27.2" fill="#2c57b0"/>
<rect x="1041.6" y="1425.9" width="54.0" height="27.2" fill="#0a32b2"/>
<rect x="1098.4" y="1425.9" width="54.0" height="27.2" fill="#2c57b0"/>
<rect x="1155.2" y="1425.9" width="54.0" height="27.2" fill="#6a86b0"/>
<rect x="1212.0" y="1425.9" width="54.0" height="27.2" fill="#2c57b0"/>
<rect x="1268.8" y="1425.9" width="54.0" height="27.2" fill="#2c57b0"/>
<rect x="1325.6" y="1425.9" width="54.0" height="27.2" fill="#2c57b0"/>
<rect x="1382.4" y="1425.9" width="54.0" height="27.2" fill="#0a32b2"/>
<rect x="1439.2" y="1425.9" width="54.0" height="27.2" fill="#6a86b0"/>
<rect x="1496.0" y="1425.9" width="54.0" height="27.2" fill="#0a32b2"/>
<rect x="1552.9" y="1425.9" width="54.0" height="27.2" fill="#4068b0"/>
<rect x="132.6" y="1455.9" width="54.0" height="27.2" fill="#2c57b0"/>
<rect x="189.4" y="1455.9" width="54.0" height="27.2" fill="#2c57b0"/>
<rect x="246.2" y="1455.9" width="54.0" height="27.2" fill="#2c57b0"/>
<rect x="303.0" y="1455.9" width="54.0" height="27.2" fill="#2c57b0"/>
<rect x="359.8" y="1455.9" width="54.0" height="27.2" fill="#2c57b0"/>
<rect x="416.6" y="1455.9" width="54.0" height="27.2" fill="#2c57b0"/>
<rect x="473.5" y="1455.9" width="54.0" height="27.2" fill="#2c57b0"/>
<rect x="530.3" y="1455.9" width="54.0" height="27.2" fill="#2c57b0"/>
<rect x="587.1" y="1455.9" width="54.0" height="27.2" fill="#2c57b0"/>
<rect x="643.9" y="1455.9" width="54.0" height="27.2" fill="#2c57b0"/>
<rect x="700.7" y="1455.9" width="54.0" height="27.2" fill="#2c57b0"/>
<rect x="757.5" y="1455.9" width="54.0" height="27.2" fill="#2c57b0"/>
<rect x="814.3" y="1455.9" width="54.0" height="27.2" fill="#2c57b0"/>
<rect x="871.1" y="1455.9" width="54.0" height="27.2" fill="#2c57b0"/>
<rect x="927.9" y="1455.9" width="54.0" height="27.2" fill="#2c57b0"/>
<rect x="984.8" y="1455.9" width="54.0" height="27.2" fill="#2c57b0"/>
<rect x="1041.6" y="1455.9" width="54.0" height="27.2" fill="#2c57b0"/>
<rect x="1098.4" y="1455.9" width="54.0" height="27.2" fill="#2c57b0"/>
<rect x="1155.2" y="1455.9" width="54.0" height="27.2" fill="#2c57b0"/>
<rect x="1212.0" y="1455.9" width="54.0" height="27.2" fill="#2c57b0"/>
<rect x="1268.8" y="1455.9" width="54.0" height="27.2" fill="#2c57b0"/>
<rect x="1325.6" y="1455.9" width="54.0" height="27.2" fill="#2c57b0"/>
<rect x="1382.4" y="1455.9" width="54.0" height="27.2" fill="#2c57b0"/>
<rect x="1439.2" y="1455.9" width="54.0" height="27.2" fill="#2c57b0"/>
<rect x="1496.0" y="1455.9" width="54.0" height="27.2" fill="#2c57b0"/>
<rect x="1552.9" y="1455.9" width="54.0" height="27.2" fill="#2c57b0"/>
<rect x="132.6" y="1485.9" width="54.0" height="27.2" fill="#d83028"/>
<rect x="189.4" y="1485.9" width="54.0" height="27.2" fill="#dc4a3a"/>
<rect x="246.2" y="1485.9" width="54.0" height="27.2" fill="#d83028"/>
<rect x="303.0" y="1485.9" width="54.0" height="27.2" fill="#dc4a3a"/>
<rect x="359.8" y="1485.9" width="54.0" height="27.2" fill="#e06c54"/>
<rect x="416.6" y="1485.9" width="54.0" height="27.2" fill="#e8b488"/>
<rect x="473.5" y="1485.9" width="54.0" height="27.2" fill="#dc4a3a"/>
<rect x="530.3" y="1485.9" width="54.0" height="27.2" fill="#e06c54"/>
<rect x="587.1" y="1485.9" width="54.0" height="27.2" fill="#e06c54"/>
<rect x="643.9" y="1485.9" width="54.0" height="27.2" fill="#e06c54"/>
<rect x="700.7" y="1485.9" width="54.0" height="27.2" fill="#e06c54"/>
<rect x="757.5" y="1485.9" width="54.0" height="27.2" fill="#dc4a3a"/>
<rect x="814.3" y="1485.9" width="54.0" height="27.2" fill="#dc4a3a"/>
<rect x="871.1" y="1485.9" width="54.0" height="27.2" fill="#e06c54"/>
<rect x="927.9" y="1485.9" width="54.0" height="27.2" fill="#e89474"/>
<rect x="984.8" y="1485.9" width="54.0" height="27.2" fill="#e06c54"/>
<rect x="1041.6" y="1485.9" width="54.0" height="27.2" fill="#e89474"/>
<rect x="1098.4" y="1485.9" width="54.0" height="27.2" fill="#e06c54"/>
<rect x="1155.2" y="1485.9" width="54.0" height="27.2" fill="#e06c54"/>
<rect x="1212.0" y="1485.9" width="54.0" height="27.2" fill="#e8b488"/>
<rect x="1268.8" y="1485.9" width="54.0" height="27.2" fill="#e06c54"/>
<rect x="1325.6" y="1485.9" width="54.0" height="27.2" fill="#e89474"/>
<rect x="1382.4" y="1485.9" width="54.0" height="27.2" fill="#e89474"/>
<rect x="1439.2" y="1485.9" width="54.0" height="27.2" fill="#dc4a3a"/>
<rect x="1496.0" y="1485.9" width="54.0" height="27.2" fill="#e8b488"/>
<rect x="1552.9" y="1485.9" width="54.0" height="27.2" fill="#dc4a3a"/>
<rect x="132.6" y="1515.9" width="54.0" height="27.2" fill="#d83028"/>
<rect x="189.4" y="1515.9" width="54.0" height="27.2" fill="#dc4a3a"/>
<rect x="246.2" y="1515.9" width="54.0" height="27.2" fill="#d83028"/>
<rect x="303.0" y="1515.9" width="54.0" height="27.2" fill="#dc4a3a"/>
<rect x="359.8" y="1515.9" width="54.0" height="27.2" fill="#e06c54"/>
<rect x="416.6" y="1515.9" width="54.0" height="27.2" fill="#e8b488"/>
<rect x="473.5" y="1515.9" width="54.0" height="27.2" fill="#dc4a3a"/>
<rect x="530.3" y="1515.9" width="54.0" height="27.2" fill="#e06c54"/>
<rect x="587.1" y="1515.9" width="54.0" height="27.2" fill="#e06c54"/>
<rect x="643.9" y="1515.9" width="54.0" height="27.2" fill="#e06c54"/>
<rect x="700.7" y="1515.9" width="54.0" height="27.2" fill="#e06c54"/>
<rect x="757.5" y="1515.9" width="54.0" height="27.2" fill="#dc4a3a"/>
<rect x="814.3" y="1515.9" width="54.0" height="27.2" fill="#dc4a3a"/>
<rect x="871.1" y="1515.9" width="54.0" height="27.2" fill="#e06c54"/>
<rect x="927.9" y="1515.9" width="54.0" height="27.2" fill="#e89474"/>
<rect x="984.8" y="1515.9" width="54.0" height="27.2" fill="#e06c54"/>
<rect x="1041.6" y="1515.9" width="54.0" height="27.2" fill="#e89474"/>
<rect x="1098.4" y="1515.9" width="54.0" height="27.2" fill="#e06c54"/>
<rect x="1155.2" y="1515.9" width="54.0" height="27.2" fill="#e06c54"/>
<rect x="1212.0" y="1515.9" width="54.0" height="27.2" fill="#e8b488"/>
<rect x="1268.8" y="1515.9" width="54.0" height="27.2" fill="#e06c54"/>
<rect x="1325.6" y="1515.9" width="54.0" height="27.2" fill="#e89474"/>
<rect x="1382.4" y="1515.9" width="54.0" height="27.2" fill="#e89474"/>
<rect x="1439.2" y="1515.9" width="54.0" height="27.2" fill="#dc4a3a"/>
<rect x="1496.0" y="1515.9" width="54.0" height="27.2" fill="#e8b488"/>
<rect x="1552.9" y="1515.9" width="54.0" height="27.2" fill="#dc4a3a"/>
<rect x="132.6" y="1545.9" width="54.0" height="27.2" fill="#2c57b0"/>
<rect x="189.4" y="1545.9" width="54.0" height="27.2" fill="#1e4ab0"/>
<rect x="246.2" y="1545.9" width="54.0" height="27.2" fill="#2c57b0"/>
<rect x="303.0" y="1545.9" width="54.0" height="27.2" fill="#0a32b2"/>
<rect x="359.8" y="1545.9" width="54.0" height="27.2" fill="#2c57b0"/>
<rect x="416.6" y="1545.9" width="54.0" height="27.2" fill="#2c57b0"/>
<rect x="473.5" y="1545.9" width="54.0" height="27.2" fill="#2c57b0"/>
<rect x="530.3" y="1545.9" width="54.0" height="27.2" fill="#2c57b0"/>
<rect x="587.1" y="1545.9" width="54.0" height="27.2" fill="#2c57b0"/>
<rect x="643.9" y="1545.9" width="54.0" height="27.2" fill="#2c57b0"/>
<rect x="700.7" y="1545.9" width="54.0" height="27.2" fill="#2c57b0"/>
<rect x="757.5" y="1545.9" width="54.0" height="27.2" fill="#2c57b0"/>
<rect x="814.3" y="1545.9" width="54.0" height="27.2" fill="#2c57b0"/>
<rect x="871.1" y="1545.9" width="54.0" height="27.2" fill="#2c57b0"/>
<rect x="927.9" y="1545.9" width="54.0" height="27.2" fill="#2c57b0"/>
<rect x="984.8" y="1545.9" width="54.0" height="27.2" fill="#2c57b0"/>
<rect x="1041.6" y="1545.9" width="54.0" height="27.2" fill="#0418ac"/>
<rect x="1098.4" y="1545.9" width="54.0" height="27.2" fill="#2c57b0"/>
<rect x="1155.2" y="1545.9" width="54.0" height="27.2" fill="#0418ac"/>
<rect x="1212.0" y="1545.9" width="54.0" height="27.2" fill="#2c57b0"/>
<rect x="1268.8" y="1545.9" width="54.0" height="27.2" fill="#2c57b0"/>
<rect x="1325.6" y="1545.9" width="54.0" height="27.2" fill="#2c57b0"/>
<rect x="1382.4" y="1545.9" width="54.0" height="27.2" fill="#2c57b0"/>
<rect x="1439.2" y="1545.9" width="54.0" height="27.2" fill="#2c57b0"/>
<rect x="1496.0" y="1545.9" width="54.0" height="27.2" fill="#2c57b0"/>
<rect x="1552.9" y="1545.9" width="54.0" height="27.2" fill="#2c57b0"/>
<rect x="132.6" y="1575.9" width="54.0" height="27.2" fill="#0a32b2"/>
<rect x="189.4" y="1575.9" width="54.0" height="27.2" fill="#0a32b2"/>
<rect x="246.2" y="1575.9" width="54.0" height="27.2" fill="#2c57b0"/>
<rect x="303.0" y="1575.9" width="54.0" height="27.2" fill="#1e4ab0"/>
<rect x="359.8" y="1575.9" width="54.0" height="27.2" fill="#2c57b0"/>
<rect x="416.6" y="1575.9" width="54.0" height="27.2" fill="#2c57b0"/>
<rect x="473.5" y="1575.9" width="54.0" height="27.2" fill="#1e4ab0"/>
<rect x="530.3" y="1575.9" width="54.0" height="27.2" fill="#2c57b0"/>
<rect x="587.1" y="1575.9" width="54.0" height="27.2" fill="#0a32b2"/>
<rect x="643.9" y="1575.9" width="54.0" height="27.2" fill="#1e4ab0"/>
<rect x="700.7" y="1575.9" width="54.0" height="27.2" fill="#2c57b0"/>
<rect x="757.5" y="1575.9" width="54.0" height="27.2" fill="#2c57b0"/>
<rect x="814.3" y="1575.9" width="54.0" height="27.2" fill="#2c57b0"/>
<rect x="871.1" y="1575.9" width="54.0" height="27.2" fill="#2c57b0"/>
<rect x="927.9" y="1575.9" width="54.0" height="27.2" fill="#0a32b2"/>
<rect x="984.8" y="1575.9" width="54.0" height="27.2" fill="#2c57b0"/>
<rect x="1041.6" y="1575.9" width="54.0" height="27.2" fill="#2c57b0"/>
<rect x="1098.4" y="1575.9" width="54.0" height="27.2" fill="#0a32b2"/>
<rect x="1155.2" y="1575.9" width="54.0" height="27.2" fill="#0a32b2"/>
<rect x="1212.0" y="1575.9" width="54.0" height="27.2" fill="#2c57b0"/>
<rect x="1268.8" y="1575.9" width="54.0" height="27.2" fill="#2c57b0"/>
<rect x="1325.6" y="1575.9" width="54.0" height="27.2" fill="#0418ac"/>
<rect x="1382.4" y="1575.9" width="54.0" height="27.2" fill="#2c57b0"/>
<rect x="1439.2" y="1575.9" width="54.0" height="27.2" fill="#2c57b0"/>
<rect x="1496.0" y="1575.9" width="54.0" height="27.2" fill="#2c57b0"/>
<rect x="1552.9" y="1575.9" width="54.0" height="27.2" fill="#2c57b0"/>
<rect x="132.6" y="1605.9" width="54.0" height="27.2" fill="#e89474"/>
<rect x="189.4" y="1605.9" width="54.0" height="27.2" fill="#e8b488"/>
<rect x="246.2" y="1605.9" width="54.0" height="27.2" fill="#e8b488"/>
<rect x="303.0" y="1605.9" width="54.0" height="27.2" fill="#e89474"/>
<rect x="359.8" y="1605.9" width="54.0" height="27.2" fill="#e06c54"/>
<rect x="416.6" y="1605.9" width="54.0" height="27.2" fill="#e8b488"/>
<rect x="473.5" y="1605.9" width="54.0" height="27.2" fill="#e89474"/>
<rect x="530.3" y="1605.9" width="54.0" height="27.2" fill="#e06c54"/>
<rect x="587.1" y="1605.9" width="54.0" height="27.2" fill="#e8b488"/>
<rect x="643.9" y="1605.9" width="54.0" height="27.2" fill="#e8b488"/>
<rect x="700.7" y="1605.9" width="54.0" height="27.2" fill="#e8b488"/>
<rect x="757.5" y="1605.9" width="54.0" height="27.2" fill="#e8b488"/>
<rect x="814.3" y="1605.9" width="54.0" height="27.2" fill="#e8b488"/>
<rect x="871.1" y="1605.9" width="54.0" height="27.2" fill="#e89474"/>
<rect x="927.9" y="1605.9" width="54.0" height="27.2" fill="#dc4a3a"/>
<rect x="984.8" y="1605.9" width="54.0" height="27.2" fill="#e8b488"/>
<rect x="1041.6" y="1605.9" width="54.0" height="27.2" fill="#edd4a0"/>
<rect x="1098.4" y="1605.9" width="54.0" height="27.2" fill="#e8b488"/>
<rect x="1155.2" y="1605.9" width="54.0" height="27.2" fill="#e89474"/>
<rect x="1212.0" y="1605.9" width="54.0" height="27.2" fill="#edd4a0"/>
<rect x="1268.8" y="1605.9" width="54.0" height="27.2" fill="#e8b488"/>
<rect x="1325.6" y="1605.9" width="54.0" height="27.2" fill="#e89474"/>
<rect x="1382.4" y="1605.9" width="54.0" height="27.2" fill="#e8b488"/>
<rect x="1439.2" y="1605.9" width="54.0" height="27.2" fill="#e8b488"/>
<rect x="1496.0" y="1605.9" width="54.0" height="27.2" fill="#edd4a0"/>
<rect x="1552.9" y="1605.9" width="54.0" height="27.2" fill="#edd4a0"/>
<rect x="132.6" y="1635.9" width="54.0" height="27.2" fill="#e89474"/>
<rect x="189.4" y="1635.9" width="54.0" height="27.2" fill="#e89474"/>
<rect x="246.2" y="1635.9" width="54.0" height="27.2" fill="#e89474"/>
<rect x="303.0" y="1635.9" width="54.0" height="27.2" fill="#e89474"/>
<rect x="359.8" y="1635.9" width="54.0" height="27.2" fill="#e06c54"/>
<rect x="416.6" y="1635.9" width="54.0" height="27.2" fill="#e8b488"/>
<rect x="473.5" y="1635.9" width="54.0" height="27.2" fill="#e89474"/>
<rect x="530.3" y="1635.9" width="54.0" height="27.2" fill="#e06c54"/>
<rect x="587.1" y="1635.9" width="54.0" height="27.2" fill="#e8b488"/>
<rect x="643.9" y="1635.9" width="54.0" height="27.2" fill="#e89474"/>
<rect x="700.7" y="1635.9" width="54.0" height="27.2" fill="#e8b488"/>
<rect x="757.5" y="1635.9" width="54.0" height="27.2" fill="#e8b488"/>
<rect x="814.3" y="1635.9" width="54.0" height="27.2" fill="#e89474"/>
<rect x="871.1" y="1635.9" width="54.0" height="27.2" fill="#e8b488"/>
<rect x="927.9" y="1635.9" width="54.0" height="27.2" fill="#e89474"/>
<rect x="984.8" y="1635.9" width="54.0" height="27.2" fill="#e8b488"/>
<rect x="1041.6" y="1635.9" width="54.0" height="27.2" fill="#edd4a0"/>
<rect x="1098.4" y="1635.9" width="54.0" height="27.2" fill="#e8b488"/>
<rect x="1155.2" y="1635.9" width="54.0" height="27.2" fill="#e89474"/>
<rect x="1212.0" y="1635.9" width="54.0" height="27.2" fill="#edd4a0"/>
<rect x="1268.8" y="1635.9" width="54.0" height="27.2" fill="#e8b488"/>
<rect x="1325.6" y="1635.9" width="54.0" height="27.2" fill="#e8b488"/>
<rect x="1382.4" y="1635.9" width="54.0" height="27.2" fill="#e89474"/>
<rect x="1439.2" y="1635.9" width="54.0" height="27.2" fill="#e8b488"/>
<rect x="1496.0" y="1635.9" width="54.0" height="27.2" fill="#e8b488"/>
<rect x="1552.9" y="1635.9" width="54.0" height="27.2" fill="#e8b488"/>
<rect x="132.6" y="1665.9" width="54.0" height="27.2" fill="#ccccb0"/>
<rect x="189.4" y="1665.9" width="54.0" height="27.2" fill="#e6e3b0"/>
<rect x="246.2" y="1665.9" width="54.0" height="27.2" fill="#e6e3b0"/>
<rect x="303.0" y="1665.9" width="54.0" height="27.2" fill="#e6e3b0"/>
<rect x="359.8" y="1665.9" width="54.0" height="27.2" fill="#6a86b0"/>
<rect x="416.6" y="1665.9" width="54.0" height="27.2" fill="#ccccb0"/>
<rect x="473.5" y="1665.9" width="54.0" height="27.2" fill="#eee6a8"/>
<rect x="530.3" y="1665.9" width="54.0" height="27.2" fill="#e6e3b0"/>
<rect x="587.1" y="1665.9" width="54.0" height="27.2" fill="#ccccb0"/>
<rect x="643.9" y="1665.9" width="54.0" height="27.2" fill="#eee6a8"/>
<rect x="700.7" y="1665.9" width="54.0" height="27.2" fill="#eee6a8"/>
<rect x="757.5" y="1665.9" width="54.0" height="27.2" fill="#eee6a8"/>
<rect x="814.3" y="1665.9" width="54.0" height="27.2" fill="#ccccb0"/>
<rect x="871.1" y="1665.9" width="54.0" height="27.2" fill="#eee6a8"/>
<rect x="927.9" y="1665.9" width="54.0" height="27.2" fill="#eee6a8"/>
<rect x="984.8" y="1665.9" width="54.0" height="27.2" fill="#eee6a8"/>
<rect x="1041.6" y="1665.9" width="54.0" height="27.2" fill="#e6e3b0"/>
<rect x="1098.4" y="1665.9" width="54.0" height="27.2" fill="#6a86b0"/>
<rect x="1155.2" y="1665.9" width="54.0" height="27.2" fill="#eee6a8"/>
<rect x="1212.0" y="1665.9" width="54.0" height="27.2" fill="#ccccb0"/>
<rect x="1268.8" y="1665.9" width="54.0" height="27.2" fill="#e6e3b0"/>
<rect x="1325.6" y="1665.9" width="54.0" height="27.2" fill="#ccccb0"/>
<rect x="1382.4" y="1665.9" width="54.0" height="27.2" fill="#8898a8"/>
<rect x="1439.2" y="1665.9" width="54.0" height="27.2" fill="#ccccb0"/>
<rect x="1496.0" y="1665.9" width="54.0" height="27.2" fill="#eee6a8"/>
<rect x="1552.9" y="1665.9" width="54.0" height="27.2" fill="#ccccb0"/>
<rect x="132.6" y="1695.9" width="54.0" height="27.2" fill="#ccccb0"/>
<rect x="189.4" y="1695.9" width="54.0" height="27.2" fill="#a8b4a8"/>
<rect x="246.2" y="1695.9" width="54.0" height="27.2" fill="#ccccb0"/>
<rect x="303.0" y="1695.9" width="54.0" height="27.2" fill="#ccccb0"/>
<rect x="359.8" y="1695.9" width="54.0" height="27.2" fill="#0a32b2"/>
<rect x="416.6" y="1695.9" width="54.0" height="27.2" fill="#ccccb0"/>
<rect x="473.5" y="1695.9" width="54.0" height="27.2" fill="#e6e3b0"/>
<rect x="530.3" y="1695.9" width="54.0" height="27.2" fill="#8898a8"/>
<rect x="587.1" y="1695.9" width="54.0" height="27.2" fill="#ccccb0"/>
<rect x="643.9" y="1695.9" width="54.0" height="27.2" fill="#a8b4a8"/>
<rect x="700.7" y="1695.9" width="54.0" height="27.2" fill="#ccccb0"/>
<rect x="757.5" y="1695.9" width="54.0" height="27.2" fill="#ccccb0"/>
<rect x="814.3" y="1695.9" width="54.0" height="27.2" fill="#4068b0"/>
<rect x="871.1" y="1695.9" width="54.0" height="27.2" fill="#ccccb0"/>
<rect x="927.9" y="1695.9" width="54.0" height="27.2" fill="#ccccb0"/>
<rect x="984.8" y="1695.9" width="54.0" height="27.2" fill="#a8b4a8"/>
<rect x="1041.6" y="1695.9" width="54.0" height="27.2" fill="#a8b4a8"/>
<rect x="1098.4" y="1695.9" width="54.0" height="27.2" fill="#0418ac"/>
<rect x="1155.2" y="1695.9" width="54.0" height="27.2" fill="#e6e3b0"/>
<rect x="1212.0" y="1695.9" width="54.0" height="27.2" fill="#a8b4a8"/>
<rect x="1268.8" y="1695.9" width="54.0" height="27.2" fill="#a8b4a8"/>
<rect x="1325.6" y="1695.9" width="54.0" height="27.2" fill="#a8b4a8"/>
<rect x="1382.4" y="1695.9" width="54.0" height="27.2" fill="#0418ac"/>
<rect x="1439.2" y="1695.9" width="54.0" height="27.2" fill="#a8b4a8"/>
<rect x="1496.0" y="1695.9" width="54.0" height="27.2" fill="#a8b4a8"/>
<rect x="1552.9" y="1695.9" width="54.0" height="27.2" fill="#a8b4a8"/>
<rect x="132.6" y="1725.9" width="54.0" height="27.2" fill="#6a86b0"/>
<rect x="189.4" y="1725.9" width="54.0" height="27.2" fill="#6a86b0"/>
<rect x="246.2" y="1725.9" width="54.0" height="27.2" fill="#4068b0"/>
<rect x="303.0" y="1725.9" width="54.0" height="27.2" fill="#2c57b0"/>
<rect x="359.8" y="1725.9" width="54.0" height="27.2" fill="#4068b0"/>
<rect x="416.6" y="1725.9" width="54.0" height="27.2" fill="#8898a8"/>
<rect x="473.5" y="1725.9" width="54.0" height="27.2" fill="#8898a8"/>
<rect x="530.3" y="1725.9" width="54.0" height="27.2" fill="#2c57b0"/>
<rect x="587.1" y="1725.9" width="54.0" height="27.2" fill="#4068b0"/>
<rect x="643.9" y="1725.9" width="54.0" height="27.2" fill="#2c57b0"/>
<rect x="700.7" y="1725.9" width="54.0" height="27.2" fill="#6a86b0"/>
<rect x="757.5" y="1725.9" width="54.0" height="27.2" fill="#2c57b0"/>
<rect x="814.3" y="1725.9" width="54.0" height="27.2" fill="#1e4ab0"/>
<rect x="871.1" y="1725.9" width="54.0" height="27.2" fill="#6a86b0"/>
<rect x="927.9" y="1725.9" width="54.0" height="27.2" fill="#4068b0"/>
<rect x="984.8" y="1725.9" width="54.0" height="27.2" fill="#4068b0"/>
<rect x="1041.6" y="1725.9" width="54.0" height="27.2" fill="#4068b0"/>
<rect x="1098.4" y="1725.9" width="54.0" height="27.2" fill="#0418ac"/>
<rect x="1155.2" y="1725.9" width="54.0" height="27.2" fill="#8898a8"/>
<rect x="1212.0" y="1725.9" width="54.0" height="27.2" fill="#0418ac"/>
<rect x="1268.8" y="1725.9" width="54.0" height="27.2" fill="#4068b0"/>
<rect x="1325.6" y="1725.9" width="54.0" height="27.2" fill="#4068b0"/>
<rect x="1382.4" y="1725.9" width="54.0" height="27.2" fill="#1e4ab0"/>
<rect x="1439.2" y="1725.9" width="54.0" height="27.2" fill="#6a86b0"/>
<rect x="1496.0" y="1725.9" width="54.0" height="27.2" fill="#4068b0"/>
<rect x="1552.9" y="1725.9" width="54.0" height="27.2" fill="#6a86b0"/>
<rect x="132.6" y="1755.9" width="54.0" height="27.2" fill="#6a86b0"/>
<rect x="189.4" y="1755.9" width="54.0" height="27.2" fill="#6a86b0"/>
<rect x="246.2" y="1755.9" width="54.0" height="27.2" fill="#a8b4a8"/>
<rect x="303.0" y="1755.9" width="54.0" height="27.2" fill="#6a86b0"/>
<rect x="359.8" y="1755.9" width="54.0" height="27.2" fill="#0a32b2"/>
<rect x="416.6" y="1755.9" width="54.0" height="27.2" fill="#8898a8"/>
<rect x="473.5" y="1755.9" width="54.0" height="27.2" fill="#8898a8"/>
<rect x="530.3" y="1755.9" width="54.0" height="27.2" fill="#4068b0"/>
<rect x="587.1" y="1755.9" width="54.0" height="27.2" fill="#6a86b0"/>
<rect x="643.9" y="1755.9" width="54.0" height="27.2" fill="#8898a8"/>
<rect x="700.7" y="1755.9" width="54.0" height="27.2" fill="#4068b0"/>
<rect x="757.5" y="1755.9" width="54.0" height="27.2" fill="#8898a8"/>
<rect x="814.3" y="1755.9" width="54.0" height="27.2" fill="#2c57b0"/>
<rect x="871.1" y="1755.9" width="54.0" height="27.2" fill="#4068b0"/>
<rect x="927.9" y="1755.9" width="54.0" height="27.2" fill="#8898a8"/>
<rect x="984.8" y="1755.9" width="54.0" height="27.2" fill="#6a86b0"/>
<rect x="1041.6" y="1755.9" width="54.0" height="27.2" fill="#4068b0"/>
<rect x="1098.4" y="1755.9" width="54.0" height="27.2" fill="#0a32b2"/>
<rect x="1155.2" y="1755.9" width="54.0" height="27.2" fill="#8898a8"/>
<rect x="1212.0" y="1755.9" width="54.0" height="27.2" fill="#2c57b0"/>
<rect x="1268.8" y="1755.9" width="54.0" height="27.2" fill="#8898a8"/>
<rect x="1325.6" y="1755.9" width="54.0" height="27.2" fill="#6a86b0"/>
<rect x="1382.4" y="1755.9" width="54.0" height="27.2" fill="#0a32b2"/>
<rect x="1439.2" y="1755.9" width="54.0" height="27.2" fill="#6a86b0"/>
<rect x="1496.0" y="1755.9" width="54.0" height="27.2" fill="#4068b0"/>
<rect x="1552.9" y="1755.9" width="54.0" height="27.2" fill="#8898a8"/>
<rect x="132.6" y="1785.9" width="54.0" height="27.2" fill="#e6e3b0"/>
<rect x="189.4" y="1785.9" width="54.0" height="27.2" fill="#ccccb0"/>
<rect x="246.2" y="1785.9" width="54.0" height="27.2" fill="#6a86b0"/>
<rect x="303.0" y="1785.9" width="54.0" height="27.2" fill="#a8b4a8"/>
<rect x="359.8" y="1785.9" width="54.0" height="27.2" fill="#6a86b0"/>
<rect x="416.6" y="1785.9" width="54.0" height="27.2" fill="#a8b4a8"/>
<rect x="473.5" y="1785.9" width="54.0" height="27.2" fill="#a8b4a8"/>
<rect x="530.3" y="1785.9" width="54.0" height="27.2" fill="#4068b0"/>
<rect x="587.1" y="1785.9" width="54.0" height="27.2" fill="#a8b4a8"/>
<rect x="643.9" y="1785.9" width="54.0" height="27.2" fill="#a8b4a8"/>
<rect x="700.7" y="1785.9" width="54.0" height="27.2" fill="#a8b4a8"/>
<rect x="757.5" y="1785.9" width="54.0" height="27.2" fill="#6a86b0"/>
<rect x="814.3" y="1785.9" width="54.0" height="27.2" fill="#4068b0"/>
<rect x="871.1" y="1785.9" width="54.0" height="27.2" fill="#a8b4a8"/>
<rect x="927.9" y="1785.9" width="54.0" height="27.2" fill="#ccccb0"/>
<rect x="984.8" y="1785.9" width="54.0" height="27.2" fill="#6a86b0"/>
<rect x="1041.6" y="1785.9" width="54.0" height="27.2" fill="#4068b0"/>
<rect x="1098.4" y="1785.9" width="54.0" height="27.2" fill="#6a86b0"/>
<rect x="1155.2" y="1785.9" width="54.0" height="27.2" fill="#a8b4a8"/>
<rect x="1212.0" y="1785.9" width="54.0" height="27.2" fill="#8898a8"/>
<rect x="1268.8" y="1785.9" width="54.0" height="27.2" fill="#8898a8"/>
<rect x="1325.6" y="1785.9" width="54.0" height="27.2" fill="#a8b4a8"/>
<rect x="1382.4" y="1785.9" width="54.0" height="27.2" fill="#8898a8"/>
<rect x="1439.2" y="1785.9" width="54.0" height="27.2" fill="#a8b4a8"/>
<rect x="1496.0" y="1785.9" width="54.0" height="27.2" fill="#6a86b0"/>
<rect x="1552.9" y="1785.9" width="54.0" height="27.2" fill="#4068b0"/>
<rect x="132.6" y="1815.9" width="54.0" height="27.2" fill="#edd4a0"/>
<rect x="189.4" y="1815.9" width="54.0" height="27.2" fill="#edd4a0"/>
<rect x="246.2" y="1815.9" width="54.0" height="27.2" fill="#eee6a8"/>
<rect x="303.0" y="1815.9" width="54.0" height="27.2" fill="#e8b488"/>
<rect x="359.8" y="1815.9" width="54.0" height="27.2" fill="#e06c54"/>
<rect x="416.6" y="1815.9" width="54.0" height="27.2" fill="#e6e3b0"/>
<rect x="473.5" y="1815.9" width="54.0" height="27.2" fill="#e89474"/>
<rect x="530.3" y="1815.9" width="54.0" height="27.2" fill="#e8b488"/>
<rect x="587.1" y="1815.9" width="54.0" height="27.2" fill="#e8b488"/>
<rect x="643.9" y="1815.9" width="54.0" height="27.2" fill="#e8b488"/>
<rect x="700.7" y="1815.9" width="54.0" height="27.2" fill="#e89474"/>
<rect x="757.5" y="1815.9" width="54.0" height="27.2" fill="#e8b488"/>
<rect x="814.3" y="1815.9" width="54.0" height="27.2" fill="#e8b488"/>
<rect x="871.1" y="1815.9" width="54.0" height="27.2" fill="#e89474"/>
<rect x="927.9" y="1815.9" width="54.0" height="27.2" fill="#e8b488"/>
<rect x="984.8" y="1815.9" width="54.0" height="27.2" fill="#e89474"/>
<rect x="1041.6" y="1815.9" width="54.0" height="27.2" fill="#e8b488"/>
<rect x="1098.4" y="1815.9" width="54.0" height="27.2" fill="#e89474"/>
<rect x="1155.2" y="1815.9" width="54.0" height="27.2" fill="#e89474"/>
<rect x="1212.0" y="1815.9" width="54.0" height="27.2" fill="#e89474"/>
<rect x="1268.8" y="1815.9" width="54.0" height="27.2" fill="#e8b488"/>
<rect x="1325.6" y="1815.9" width="54.0" height="27.2" fill="#e8b488"/>
<rect x="1382.4" y="1815.9" width="54.0" height="27.2" fill="#e06c54"/>
<rect x="1439.2" y="1815.9" width="54.0" height="27.2" fill="#eee6a8"/>
<rect x="1496.0" y="1815.9" width="54.0" height="27.2" fill="#e8b488"/>
<rect x="1552.9" y="1815.9" width="54.0" height="27.2" fill="#eee6a8"/>
<rect x="132.6" y="1845.9" width="54.0" height="27.2" fill="#0a32b2"/>
<rect x="189.4" y="1845.9" width="54.0" height="27.2" fill="#2c57b0"/>
<rect x="246.2" y="1845.9" width="54.0" height="27.2" fill="#6a86b0"/>
<rect x="303.0" y="1845.9" width="54.0" height="27.2" fill="#0a32b2"/>
<rect x="359.8" y="1845.9" width="54.0" height="27.2" fill="#8898a8"/>
<rect x="416.6" y="1845.9" width="54.0" height="27.2" fill="#8898a8"/>
<rect x="473.5" y="1845.9" width="54.0" height="27.2" fill="#8898a8"/>
<rect x="530.3" y="1845.9" width="54.0" height="27.2" fill="#2c57b0"/>
<rect x="587.1" y="1845.9" width="54.0" height="27.2" fill="#8898a8"/>
<rect x="643.9" y="1845.9" width="54.0" height="27.2" fill="#6a86b0"/>
<rect x="700.7" y="1845.9" width="54.0" height="27.2" fill="#6a86b0"/>
<rect x="757.5" y="1845.9" width="54.0" height="27.2" fill="#6a86b0"/>
<rect x="814.3" y="1845.9" width="54.0" height="27.2" fill="#8898a8"/>
<rect x="871.1" y="1845.9" width="54.0" height="27.2" fill="#8898a8"/>
<rect x="927.9" y="1845.9" width="54.0" height="27.2" fill="#4068b0"/>
<rect x="984.8" y="1845.9" width="54.0" height="27.2" fill="#8898a8"/>
<rect x="1041.6" y="1845.9" width="54.0" height="27.2" fill="#8898a8"/>
<rect x="1098.4" y="1845.9" width="54.0" height="27.2" fill="#6a86b0"/>
<rect x="1155.2" y="1845.9" width="54.0" height="27.2" fill="#4068b0"/>
<rect x="1212.0" y="1845.9" width="54.0" height="27.2" fill="#a8b4a8"/>
<rect x="1268.8" y="1845.9" width="54.0" height="27.2" fill="#6a86b0"/>
<rect x="1325.6" y="1845.9" width="54.0" height="27.2" fill="#8898a8"/>
<rect x="1382.4" y="1845.9" width="54.0" height="27.2" fill="#6a86b0"/>
<rect x="1439.2" y="1845.9" width="54.0" height="27.2" fill="#2c57b0"/>
<rect x="1496.0" y="1845.9" width="54.0" height="27.2" fill="#a8b4a8"/>
<rect x="1552.9" y="1845.9" width="54.0" height="27.2" fill="#6a86b0"/>
<rect x="132.6" y="1875.9" width="54.0" height="27.2" fill="#6a86b0"/>
<rect x="189.4" y="1875.9" width="54.0" height="27.2" fill="#2c57b0"/>
<rect x="246.2" y="1875.9" width="54.0" height="27.2" fill="#2c57b0"/>
<rect x="303.0" y="1875.9" width="54.0" height="27.2" fill="#2c57b0"/>
<rect x="359.8" y="1875.9" width="54.0" height="27.2" fill="#8898a8"/>
<rect x="416.6" y="1875.9" width="54.0" height="27.2" fill="#8898a8"/>
<rect x="473.5" y="1875.9" width="54.0" height="27.2" fill="#6a86b0"/>
<rect x="530.3" y="1875.9" width="54.0" height="27.2" fill="#4068b0"/>
<rect x="587.1" y="1875.9" width="54.0" height="27.2" fill="#4068b0"/>
<rect x="643.9" y="1875.9" width="54.0" height="27.2" fill="#2c57b0"/>
<rect x="700.7" y="1875.9" width="54.0" height="27.2" fill="#1e4ab0"/>
<rect x="757.5" y="1875.9" width="54.0" height="27.2" fill="#4068b0"/>
<rect x="814.3" y="1875.9" width="54.0" height="27.2" fill="#6a86b0"/>
<rect x="871.1" y="1875.9" width="54.0" height="27.2" fill="#4068b0"/>
<rect x="927.9" y="1875.9" width="54.0" height="27.2" fill="#4068b0"/>
<rect x="984.8" y="1875.9" width="54.0" height="27.2" fill="#4068b0"/>
<rect x="1041.6" y="1875.9" width="54.0" height="27.2" fill="#2c57b0"/>
<rect x="1098.4" y="1875.9" width="54.0" height="27.2" fill="#4068b0"/>
<rect x="1155.2" y="1875.9" width="54.0" height="27.2" fill="#4068b0"/>
<rect x="1212.0" y="1875.9" width="54.0" height="27.2" fill="#8898a8"/>
<rect x="1268.8" y="1875.9" width="54.0" height="27.2" fill="#4068b0"/>
<rect x="1325.6" y="1875.9" width="54.0" height="27.2" fill="#8898a8"/>
<rect x="1382.4" y="1875.9" width="54.0" height="27.2" fill="#4068b0"/>
<rect x="1439.2" y="1875.9" width="54.0" height="27.2" fill="#2c57b0"/>
<rect x="1496.0" y="1875.9" width="54.0" height="27.2" fill="#8898a8"/>
<rect x="1552.9" y="1875.9" width="54.0" height="27.2" fill="#2c57b0"/>
<rect x="132.6" y="1905.9" width="54.0" height="27.2" fill="#ccccb0"/>
<rect x="189.4" y="1905.9" width="54.0" height="27.2" fill="#a8b4a8"/>
<rect x="246.2" y="1905.9" width="54.0" height="27.2" fill="#ccccb0"/>
<rect x="303.0" y="1905.9" width="54.0" height="27.2" fill="#ccccb0"/>
<rect x="359.8" y="1905.9" width="54.0" height="27.2" fill="#e6e3b0"/>
<rect x="416.6" y="1905.9" width="54.0" height="27.2" fill="#ccccb0"/>
<rect x="473.5" y="1905.9" width="54.0" height="27.2" fill="#ccccb0"/>
<rect x="530.3" y="1905.9" width="54.0" height="27.2" fill="#8898a8"/>
<rect x="587.1" y="1905.9" width="54.0" height="27.2" fill="#ccccb0"/>
<rect x="643.9" y="1905.9" width="54.0" height="27.2" fill="#a8b4a8"/>
<rect x="700.7" y="1905.9" width="54.0" height="27.2" fill="#ccccb0"/>
<rect x="757.5" y="1905.9" width="54.0" height="27.2" fill="#ccccb0"/>
<rect x="814.3" y="1905.9" width="54.0" height="27.2" fill="#8898a8"/>
<rect x="871.1" y="1905.9" width="54.0" height="27.2" fill="#a8b4a8"/>
<rect x="927.9" y="1905.9" width="54.0" height="27.2" fill="#ccccb0"/>
<rect x="984.8" y="1905.9" width="54.0" height="27.2" fill="#a8b4a8"/>
<rect x="1041.6" y="1905.9" width="54.0" height="27.2" fill="#a8b4a8"/>
<rect x="1098.4" y="1905.9" width="54.0" height="27.2" fill="#a8b4a8"/>
<rect x="1155.2" y="1905.9" width="54.0" height="27.2" fill="#ccccb0"/>
<rect x="1212.0" y="1905.9" width="54.0" height="27.2" fill="#a8b4a8"/>
<rect x="1268.8" y="1905.9" width="54.0" height="27.2" fill="#a8b4a8"/>
<rect x="1325.6" y="1905.9" width="54.0" height="27.2" fill="#ccccb0"/>
<rect x="1382.4" y="1905.9" width="54.0" height="27.2" fill="#a8b4a8"/>
<rect x="1439.2" y="1905.9" width="54.0" height="27.2" fill="#a8b4a8"/>
<rect x="1496.0" y="1905.9" width="54.0" height="27.2" fill="#e6e3b0"/>
<rect x="1552.9" y="1905.9" width="54.0" height="27.2" fill="#6a86b0"/>
<rect x="132.6" y="1935.9" width="54.0" height="27.2" fill="#0a32b2"/>
<rect x="189.4" y="1935.9" width="54.0" height="27.2" fill="#2c57b0"/>
<rect x="246.2" y="1935.9" width="54.0" height="27.2" fill="#0418ac"/>
<rect x="303.0" y="1935.9" width="54.0" height="27.2" fill="#2c57b0"/>
<rect x="359.8" y="1935.9" width="54.0" height="27.2" fill="#0a32b2"/>
<rect x="416.6" y="1935.9" width="54.0" height="27.2" fill="#0a32b2"/>
<rect x="473.5" y="1935.9" width="54.0" height="27.2" fill="#1e4ab0"/>
<rect x="530.3" y="1935.9" width="54.0" height="27.2" fill="#1e4ab0"/>
<rect x="587.1" y="1935.9" width="54.0" height="27.2" fill="#1e4ab0"/>
<rect x="643.9" y="1935.9" width="54.0" height="27.2" fill="#1e4ab0"/>
<rect x="700.7" y="1935.9" width="54.0" height="27.2" fill="#0a32b2"/>
<rect x="757.5" y="1935.9" width="54.0" height="27.2" fill="#0418ac"/>
<rect x="814.3" y="1935.9" width="54.0" height="27.2" fill="#0a32b2"/>
<rect x="871.1" y="1935.9" width="54.0" height="27.2" fill="#1e4ab0"/>
<rect x="927.9" y="1935.9" width="54.0" height="27.2" fill="#1e4ab0"/>
<rect x="984.8" y="1935.9" width="54.0" height="27.2" fill="#0418ac"/>
<rect x="1041.6" y="1935.9" width="54.0" height="27.2" fill="#0a32b2"/>
<rect x="1098.4" y="1935.9" width="54.0" height="27.2" fill="#0a32b2"/>
<rect x="1155.2" y="1935.9" width="54.0" height="27.2" fill="#2c57b0"/>
<rect x="1212.0" y="1935.9" width="54.0" height="27.2" fill="#0418ac"/>
<rect x="1268.8" y="1935.9" width="54.0" height="27.2" fill="#4068b0"/>
<rect x="1325.6" y="1935.9" width="54.0" height="27.2" fill="#0a32b2"/>
<rect x="1382.4" y="1935.9" width="54.0" height="27.2" fill="#4068b0"/>
<rect x="1439.2" y="1935.9" width="54.0" height="27.2" fill="#0a32b2"/>
<rect x="1496.0" y="1935.9" width="54.0" height="27.2" fill="#8898a8"/>
<rect x="1552.9" y="1935.9" width="54.0" height="27.2" fill="#6a86b0"/>
<rect x="132.6" y="1965.9" width="54.0" height="27.2" fill="#0418ac"/>
<rect x="189.4" y="1965.9" width="54.0" height="27.2" fill="#0a32b2"/>
<rect x="246.2" y="1965.9" width="54.0" height="27.2" fill="#1e4ab0"/>
<rect x="303.0" y="1965.9" width="54.0" height="27.2" fill="#1e4ab0"/>
<rect x="359.8" y="1965.9" width="54.0" height="27.2" fill="#0418ac"/>
<rect x="416.6" y="1965.9" width="54.0" height="27.2" fill="#6a86b0"/>
<rect x="473.5" y="1965.9" width="54.0" height="27.2" fill="#2c57b0"/>
<rect x="530.3" y="1965.9" width="54.0" height="27.2" fill="#2c57b0"/>
<rect x="587.1" y="1965.9" width="54.0" height="27.2" fill="#0418ac"/>
<rect x="643.9" y="1965.9" width="54.0" height="27.2" fill="#2c57b0"/>
<rect x="700.7" y="1965.9" width="54.0" height="27.2" fill="#0a32b2"/>
<rect x="757.5" y="1965.9" width="54.0" height="27.2" fill="#2c57b0"/>
<rect x="814.3" y="1965.9" width="54.0" height="27.2" fill="#1e4ab0"/>
<rect x="871.1" y="1965.9" width="54.0" height="27.2" fill="#0a32b2"/>
<rect x="927.9" y="1965.9" width="54.0" height="27.2" fill="#1e4ab0"/>
<rect x="984.8" y="1965.9" width="54.0" height="27.2" fill="#0418ac"/>
<rect x="1041.6" y="1965.9" width="54.0" height="27.2" fill="#2c57b0"/>
<rect x="1098.4" y="1965.9" width="54.0" height="27.2" fill="#1e4ab0"/>
<rect x="1155.2" y="1965.9" width="54.0" height="27.2" fill="#2c57b0"/>
<rect x="1212.0" y="1965.9" width="54.0" height="27.2" fill="#2c57b0"/>
<rect x="1268.8" y="1965.9" width="54.0" height="27.2" fill="#4068b0"/>
<rect x="1325.6" y="1965.9" width="54.0" height="27.2" fill="#2c57b0"/>
<rect x="1382.4" y="1965.9" width="54.0" height="27.2" fill="#2c57b0"/>
<rect x="1439.2" y="1965.9" width="54.0" height="27.2" fill="#0418ac"/>
<rect x="1496.0" y="1965.9" width="54.0" height="27.2" fill="#4068b0"/>
<rect x="1552.9" y="1965.9" width="54.0" height="27.2" fill="#1e4ab0"/>
<rect x="132.6" y="1995.9" width="54.0" height="27.2" fill="#e8b488"/>
<rect x="189.4" y="1995.9" width="54.0" height="27.2" fill="#e8b488"/>
<rect x="246.2" y="1995.9" width="54.0" height="27.2" fill="#e8b488"/>
<rect x="303.0" y="1995.9" width="54.0" height="27.2" fill="#e89474"/>
<rect x="359.8" y="1995.9" width="54.0" height="27.2" fill="#e89474"/>
<rect x="416.6" y="1995.9" width="54.0" height="27.2" fill="#e89474"/>
<rect x="473.5" y="1995.9" width="54.0" height="27.2" fill="#e89474"/>
<rect x="530.3" y="1995.9" width="54.0" height="27.2" fill="#e89474"/>
<rect x="587.1" y="1995.9" width="54.0" height="27.2" fill="#e89474"/>
<rect x="643.9" y="1995.9" width="54.0" height="27.2" fill="#e89474"/>
<rect x="700.7" y="1995.9" width="54.0" height="27.2" fill="#e89474"/>
<rect x="757.5" y="1995.9" width="54.0" height="27.2" fill="#e8b488"/>
<rect x="814.3" y="1995.9" width="54.0" height="27.2" fill="#e89474"/>
<rect x="871.1" y="1995.9" width="54.0" height="27.2" fill="#e06c54"/>
<rect x="927.9" y="1995.9" width="54.0" height="27.2" fill="#e06c54"/>
<rect x="984.8" y="1995.9" width="54.0" height="27.2" fill="#e89474"/>
<rect x="1041.6" y="1995.9" width="54.0" height="27.2" fill="#e06c54"/>
<rect x="1098.4" y="1995.9" width="54.0" height="27.2" fill="#e89474"/>
<rect x="1155.2" y="1995.9" width="54.0" height="27.2" fill="#e06c54"/>
<rect x="1212.0" y="1995.9" width="54.0" height="27.2" fill="#e06c54"/>
<rect x="1268.8" y="1995.9" width="54.0" height="27.2" fill="#e06c54"/>
<rect x="1325.6" y="1995.9" width="54.0" height="27.2" fill="#e06c54"/>
<rect x="1382.4" y="1995.9" width="54.0" height="27.2" fill="#dc4a3a"/>
<rect x="1439.2" y="1995.9" width="54.0" height="27.2" fill="#e8b488"/>
<rect x="1496.0" y="1995.9" width="54.0" height="27.2" fill="#dc4a3a"/>
<rect x="1552.9" y="1995.9" width="54.0" height="27.2" fill="#e8b488"/>
<rect x="132.6" y="2025.9" width="54.0" height="27.2" fill="#e89474"/>
<rect x="189.4" y="2025.9" width="54.0" height="27.2" fill="#e89474"/>
<rect x="246.2" y="2025.9" width="54.0" height="27.2" fill="#e89474"/>
<rect x="303.0" y="2025.9" width="54.0" height="27.2" fill="#e06c54"/>
<rect x="359.8" y="2025.9" width="54.0" height="27.2" fill="#e06c54"/>
<rect x="416.6" y="2025.9" width="54.0" height="27.2" fill="#e8b488"/>
<rect x="473.5" y="2025.9" width="54.0" height="27.2" fill="#e89474"/>
<rect x="530.3" y="2025.9" width="54.0" height="27.2" fill="#e89474"/>
<rect x="587.1" y="2025.9" width="54.0" height="27.2" fill="#e89474"/>
<rect x="643.9" y="2025.9" width="54.0" height="27.2" fill="#e06c54"/>
<rect x="700.7" y="2025.9" width="54.0" height="27.2" fill="#e06c54"/>
<rect x="757.5" y="2025.9" width="54.0" height="27.2" fill="#e8b488"/>
<rect x="814.3" y="2025.9" width="54.0" height="27.2" fill="#e8b488"/>
<rect x="871.1" y="2025.9" width="54.0" height="27.2" fill="#e06c54"/>
<rect x="927.9" y="2025.9" width="54.0" height="27.2" fill="#e06c54"/>
<rect x="984.8" y="2025.9" width="54.0" height="27.2" fill="#e8b488"/>
<rect x="1041.6" y="2025.9" width="54.0" height="27.2" fill="#e8b488"/>
<rect x="1098.4" y="2025.9" width="54.0" height="27.2" fill="#e89474"/>
<rect x="1155.2" y="2025.9" width="54.0" height="27.2" fill="#e89474"/>
<rect x="1212.0" y="2025.9" width="54.0" height="27.2" fill="#e06c54"/>
<rect x="1268.8" y="2025.9" width="54.0" height="27.2" fill="#e06c54"/>
<rect x="1325.6" y="2025.9" width="54.0" height="27.2" fill="#e06c54"/>
<rect x="1382.4" y="2025.9" width="54.0" height="27.2" fill="#e06c54"/>
<rect x="1439.2" y="2025.9" width="54.0" height="27.2" fill="#e89474"/>
<rect x="1496.0" y="2025.9" width="54.0" height="27.2" fill="#e89474"/>
<rect x="1552.9" y="2025.9" width="54.0" height="27.2" fill="#e06c54"/>
<rect x="132.6" y="2055.9" width="54.0" height="27.2" fill="#2c57b0"/>
<rect x="189.4" y="2055.9" width="54.0" height="27.2" fill="#2c57b0"/>
<rect x="246.2" y="2055.9" width="54.0" height="27.2" fill="#2c57b0"/>
<rect x="303.0" y="2055.9" width="54.0" height="27.2" fill="#2c57b0"/>
<rect x="359.8" y="2055.9" width="54.0" height="27.2" fill="#2c57b0"/>
<rect x="416.6" y="2055.9" width="54.0" height="27.2" fill="#2c57b0"/>
<rect x="473.5" y="2055.9" width="54.0" height="27.2" fill="#2c57b0"/>
<rect x="530.3" y="2055.9" width="54.0" height="27.2" fill="#2c57b0"/>
<rect x="587.1" y="2055.9" width="54.0" height="27.2" fill="#2c57b0"/>
<rect x="643.9" y="2055.9" width="54.0" height="27.2" fill="#2c57b0"/>
<rect x="700.7" y="2055.9" width="54.0" height="27.2" fill="#2c57b0"/>
<rect x="757.5" y="2055.9" width="54.0" height="27.2" fill="#2c57b0"/>
<rect x="814.3" y="2055.9" width="54.0" height="27.2" fill="#2c57b0"/>
<rect x="871.1" y="2055.9" width="54.0" height="27.2" fill="#2c57b0"/>
<rect x="927.9" y="2055.9" width="54.0" height="27.2" fill="#2c57b0"/>
<rect x="984.8" y="2055.9" width="54.0" height="27.2" fill="#2c57b0"/>
<rect x="1041.6" y="2055.9" width="54.0" height="27.2" fill="#2c57b0"/>
<rect x="1098.4" y="2055.9" width="54.0" height="27.2" fill="#2c57b0"/>
<rect x="1155.2" y="2055.9" width="54.0" height="27.2" fill="#2c57b0"/>
<rect x="1212.0" y="2055.9" width="54.0" height="27.2" fill="#2c57b0"/>
<rect x="1268.8" y="2055.9" width="54.0" height="27.2" fill="#2c57b0"/>
<rect x="1325.6" y="2055.9" width="54.0" height="27.2" fill="#2c57b0"/>
<rect x="1382.4" y="2055.9" width="54.0" height="27.2" fill="#2c57b0"/>
<rect x="1439.2" y="2055.9" width="54.0" height="27.2" fill="#2c57b0"/>
<rect x="1496.0" y="2055.9" width="54.0" height="27.2" fill="#2c57b0"/>
<rect x="1552.9" y="2055.9" width="54.0" height="27.2" fill="#2c57b0"/>
<rect x="132.6" y="2085.9" width="54.0" height="27.2" fill="#2c57b0"/>
<rect x="189.4" y="2085.9" width="54.0" height="27.2" fill="#2c57b0"/>
<rect x="246.2" y="2085.9" width="54.0" height="27.2" fill="#2c57b0"/>
<rect x="303.0" y="2085.9" width="54.0" height="27.2" fill="#2c57b0"/>
<rect x="359.8" y="2085.9" width="54.0" height="27.2" fill="#2c57b0"/>
<rect x="416.6" y="2085.9" width="54.0" height="27.2" fill="#2c57b0"/>
<rect x="473.5" y="2085.9" width="54.0" height="27.2" fill="#2c57b0"/>
<rect x="530.3" y="2085.9" width="54.0" height="27.2" fill="#2c57b0"/>
<rect x="587.1" y="2085.9" width="54.0" height="27.2" fill="#2c57b0"/>
<rect x="643.9" y="2085.9" width="54.0" height="27.2" fill="#2c57b0"/>
<rect x="700.7" y="2085.9" width="54.0" height="27.2" fill="#2c57b0"/>
<rect x="757.5" y="2085.9" width="54.0" height="27.2" fill="#2c57b0"/>
<rect x="814.3" y="2085.9" width="54.0" height="27.2" fill="#2c57b0"/>
<rect x="871.1" y="2085.9" width="54.0" height="27.2" fill="#2c57b0"/>
<rect x="927.9" y="2085.9" width="54.0" height="27.2" fill="#2c57b0"/>
<rect x="984.8" y="2085.9" width="54.0" height="27.2" fill="#2c57b0"/>
<rect x="1041.6" y="2085.9" width="54.0" height="27.2" fill="#2c57b0"/>
<rect x="1098.4" y="2085.9" width="54.0" height="27.2" fill="#2c57b0"/>
<rect x="1155.2" y="2085.9" width="54.0" height="27.2" fill="#2c57b0"/>
<rect x="1212.0" y="2085.9" width="54.0" height="27.2" fill="#2c57b0"/>
<rect x="1268.8" y="2085.9" width="54.0" height="27.2" fill="#2c57b0"/>
<rect x="1325.6" y="2085.9" width="54.0" height="27.2" fill="#2c57b0"/>
<rect x="1382.4" y="2085.9" width="54.0" height="27.2" fill="#2c57b0"/>
<rect x="1439.2" y="2085.9" width="54.0" height="27.2" fill="#2c57b0"/>
<rect x="1496.0" y="2085.9" width="54.0" height="27.2" fill="#2c57b0"/>
<rect x="1552.9" y="2085.9" width="54.0" height="27.2" fill="#2c57b0"/>
<rect x="132.6" y="2115.9" width="54.0" height="27.2" fill="#2c57b0"/>
<rect x="189.4" y="2115.9" width="54.0" height="27.2" fill="#2c57b0"/>
<rect x="246.2" y="2115.9" width="54.0" height="27.2" fill="#2c57b0"/>
<rect x="303.0" y="2115.9" width="54.0" height="27.2" fill="#2c57b0"/>
<rect x="359.8" y="2115.9" width="54.0" height="27.2" fill="#2c57b0"/>
<rect x="416.6" y="2115.9" width="54.0" height="27.2" fill="#2c57b0"/>
<rect x="473.5" y="2115.9" width="54.0" height="27.2" fill="#2c57b0"/>
<rect x="530.3" y="2115.9" width="54.0" height="27.2" fill="#2c57b0"/>
<rect x="587.1" y="2115.9" width="54.0" height="27.2" fill="#2c57b0"/>
<rect x="643.9" y="2115.9" width="54.0" height="27.2" fill="#2c57b0"/>
<rect x="700.7" y="2115.9" width="54.0" height="27.2" fill="#2c57b0"/>
<rect x="757.5" y="2115.9" width="54.0" height="27.2" fill="#0a32b2"/>
<rect x="814.3" y="2115.9" width="54.0" height="27.2" fill="#2c57b0"/>
<rect x="871.1" y="2115.9" width="54.0" height="27.2" fill="#2c57b0"/>
<rect x="927.9" y="2115.9" width="54.0" height="27.2" fill="#2c57b0"/>
<rect x="984.8" y="2115.9" width="54.0" height="27.2" fill="#2c57b0"/>
<rect x="1041.6" y="2115.9" width="54.0" height="27.2" fill="#2c57b0"/>
<rect x="1098.4" y="2115.9" width="54.0" height="27.2" fill="#2c57b0"/>
<rect x="1155.2" y="2115.9" width="54.0" height="27.2" fill="#2c57b0"/>
<rect x="1212.0" y="2115.9" width="54.0" height="27.2" fill="#2c57b0"/>
<rect x="1268.8" y="2115.9" width="54.0" height="27.2" fill="#2c57b0"/>
<rect x="1325.6" y="2115.9" width="54.0" height="27.2" fill="#2c57b0"/>
<rect x="1382.4" y="2115.9" width="54.0" height="27.2" fill="#2c57b0"/>
<rect x="1439.2" y="2115.9" width="54.0" height="27.2" fill="#2c57b0"/>
<rect x="1496.0" y="2115.9" width="54.0" height="27.2" fill="#2c57b0"/>
<rect x="1552.9" y="2115.9" width="54.0" height="27.2" fill="#2c57b0"/>
<rect x="132.6" y="2145.9" width="54.0" height="27.2" fill="#2c57b0"/>
<rect x="189.4" y="2145.9" width="54.0" height="27.2" fill="#2c57b0"/>
<rect x="246.2" y="2145.9" width="54.0" height="27.2" fill="#2c57b0"/>
<rect x="303.0" y="2145.9" width="54.0" height="27.2" fill="#2c57b0"/>
<rect x="359.8" y="2145.9" width="54.0" height="27.2" fill="#2c57b0"/>
<rect x="416.6" y="2145.9" width="54.0" height="27.2" fill="#2c57b0"/>
<rect x="473.5" y="2145.9" width="54.0" height="27.2" fill="#2c57b0"/>
<rect x="530.3" y="2145.9" width="54.0" height="27.2" fill="#2c57b0"/>
<rect x="587.1" y="2145.9" width="54.0" height="27.2" fill="#2c57b0"/>
<rect x="643.9" y="2145.9" width="54.0" height="27.2" fill="#2c57b0"/>
<rect x="700.7" y="2145.9" width="54.0" height="27.2" fill="#2c57b0"/>
<rect x="757.5" y="2145.9" width="54.0" height="27.2" fill="#2c57b0"/>
<rect x="814.3" y="2145.9" width="54.0" height="27.2" fill="#2c57b0"/>
<rect x="871.1" y="2145.9" width="54.0" height="27.2" fill="#2c57b0"/>
<rect x="927.9" y="2145.9" width="54.0" height="27.2" fill="#2c57b0"/>
<rect x="984.8" y="2145.9" width="54.0" height="27.2" fill="#2c57b0"/>
<rect x="1041.6" y="2145.9" width="54.0" height="27.2" fill="#2c57b0"/>
<rect x="1098.4" y="2145.9" width="54.0" height="27.2" fill="#2c57b0"/>
<rect x="1155.2" y="2145.9" width="54.0" height="27.2" fill="#2c57b0"/>
<rect x="1212.0" y="2145.9" width="54.0" height="27.2" fill="#2c57b0"/>
<rect x="1268.8" y="2145.9" width="54.0" height="27.2" fill="#2c57b0"/>
<rect x="1325.6" y="2145.9" width="54.0" height="27.2" fill="#2c57b0"/>
<rect x="1382.4" y="2145.9" width="54.0" height="27.2" fill="#2c57b0"/>
<rect x="1439.2" y="2145.9" width="54.0" height="27.2" fill="#2c57b0"/>
<rect x="1496.0" y="2145.9" width="54.0" height="27.2" fill="#2c57b0"/>
<rect x="1552.9" y="2145.9" width="54.0" height="27.2" fill="#2c57b0"/>
<rect x="132.6" y="2175.9" width="54.0" height="27.2" fill="#edd4a0"/>
<rect x="189.4" y="2175.9" width="54.0" height="27.2" fill="#edd4a0"/>
<rect x="246.2" y="2175.9" width="54.0" height="27.2" fill="#edd4a0"/>
<rect x="303.0" y="2175.9" width="54.0" height="27.2" fill="#edd4a0"/>
<rect x="359.8" y="2175.9" width="54.0" height="27.2" fill="#e8b488"/>
<rect x="416.6" y="2175.9" width="54.0" height="27.2" fill="#ccccb0"/>
<rect x="473.5" y="2175.9" width="54.0" height="27.2" fill="#e8b488"/>
<rect x="530.3" y="2175.9" width="54.0" height="27.2" fill="#eee6a8"/>
<rect x="587.1" y="2175.9" width="54.0" height="27.2" fill="#edd4a0"/>
<rect x="643.9" y="2175.9" width="54.0" height="27.2" fill="#edd4a0"/>
<rect x="700.7" y="2175.9" width="54.0" height="27.2" fill="#e8b488"/>
<rect x="757.5" y="2175.9" width="54.0" height="27.2" fill="#eee6a8"/>
<rect x="814.3" y="2175.9" width="54.0" height="27.2" fill="#eee6a8"/>
<rect x="871.1" y="2175.9" width="54.0" height="27.2" fill="#e8b488"/>
<rect x="927.9" y="2175.9" width="54.0" height="27.2" fill="#edd4a0"/>
<rect x="984.8" y="2175.9" width="54.0" height="27.2" fill="#edd4a0"/>
<rect x="1041.6" y="2175.9" width="54.0" height="27.2" fill="#e8b488"/>
<rect x="1098.4" y="2175.9" width="54.0" height="27.2" fill="#eee6a8"/>
<rect x="1155.2" y="2175.9" width="54.0" height="27.2" fill="#e8b488"/>
<rect x="1212.0" y="2175.9" width="54.0" height="27.2" fill="#edd4a0"/>
<rect x="1268.8" y="2175.9" width="54.0" height="27.2" fill="#e8b488"/>
<rect x="1325.6" y="2175.9" width="54.0" height="27.2" fill="#edd4a0"/>
<rect x="1382.4" y="2175.9" width="54.0" height="27.2" fill="#eee6a8"/>
<rect x="1439.2" y="2175.9" width="54.0" height="27.2" fill="#eee6a8"/>
<rect x="1496.0" y="2175.9" width="54.0" height="27.2" fill="#eee6a8"/>
<rect x="1552.9" y="2175.9" width="54.0" height="27.2" fill="#eee6a8"/>
<rect x="132.6" y="2205.9" width="54.0" height="27.2" fill="#eee6a8"/>
<rect x="189.4" y="2205.9" width="54.0" height="27.2" fill="#eee6a8"/>
<rect x="246.2" y="2205.9" width="54.0" height="27.2" fill="#e6e3b0"/>
<rect x="303.0" y="2205.9" width="54.0" height="27.2" fill="#eee6a8"/>
<rect x="359.8" y="2205.9" width="54.0" height="27.2" fill="#e8b488"/>
<rect x="416.6" y="2205.9" width="54.0" height="27.2" fill="#a8b4a8"/>
<rect x="473.5" y="2205.9" width="54.0" height="27.2" fill="#e8b488"/>
<rect x="530.3" y="2205.9" width="54.0" height="27.2" fill="#e6e3b0"/>
<rect x="587.1" y="2205.9" width="54.0" height="27.2" fill="#edd4a0"/>
<rect x="643.9" y="2205.9" width="54.0" height="27.2" fill="#e6e3b0"/>
<rect x="700.7" y="2205.9" width="54.0" height="27.2" fill="#edd4a0"/>
<rect x="757.5" y="2205.9" width="54.0" height="27.2" fill="#eee6a8"/>
<rect x="814.3" y="2205.9" width="54.0" height="27.2" fill="#edd4a0"/>
<rect x="871.1" y="2205.9" width="54.0" height="27.2" fill="#e8b488"/>
<rect x="927.9" y="2205.9" width="54.0" height="27.2" fill="#e6e3b0"/>
<rect x="984.8" y="2205.9" width="54.0" height="27.2" fill="#edd4a0"/>
<rect x="1041.6" y="2205.9" width="54.0" height="27.2" fill="#edd4a0"/>
<rect x="1098.4" y="2205.9" width="54.0" height="27.2" fill="#edd4a0"/>
<rect x="1155.2" y="2205.9" width="54.0" height="27.2" fill="#e8b488"/>
<rect x="1212.0" y="2205.9" width="54.0" height="27.2" fill="#ccccb0"/>
<rect x="1268.8" y="2205.9" width="54.0" height="27.2" fill="#e6e3b0"/>
<rect x="1325.6" y="2205.9" width="54.0" height="27.2" fill="#edd4a0"/>
<rect x="1382.4" y="2205.9" width="54.0" height="27.2" fill="#edd4a0"/>
<rect x="1439.2" y="2205.9" width="54.0" height="27.2" fill="#e6e3b0"/>
<rect x="1496.0" y="2205.9" width="54.0" height="27.2" fill="#ccccb0"/>
<rect x="1552.9" y="2205.9" width="54.0" height="27.2" fill="#ccccb0"/>
<rect x="132.6" y="2235.9" width="54.0" height="27.2" fill="#ccccb0"/>
<rect x="189.4" y="2235.9" width="54.0" height="27.2" fill="#ccccb0"/>
<rect x="246.2" y="2235.9" width="54.0" height="27.2" fill="#e6e3b0"/>
<rect x="303.0" y="2235.9" width="54.0" height="27.2" fill="#ccccb0"/>
<rect x="359.8" y="2235.9" width="54.0" height="27.2" fill="#ccccb0"/>
<rect x="416.6" y="2235.9" width="54.0" height="27.2" fill="#eee6a8"/>
<rect x="473.5" y="2235.9" width="54.0" height="27.2" fill="#eee6a8"/>
<rect x="530.3" y="2235.9" width="54.0" height="27.2" fill="#a8b4a8"/>
<rect x="587.1" y="2235.9" width="54.0" height="27.2" fill="#ccccb0"/>
<rect x="643.9" y="2235.9" width="54.0" height="27.2" fill="#ccccb0"/>
<rect x="700.7" y="2235.9" width="54.0" height="27.2" fill="#eee6a8"/>
<rect x="757.5" y="2235.9" width="54.0" height="27.2" fill="#ccccb0"/>
<rect x="814.3" y="2235.9" width="54.0" height="27.2" fill="#a8b4a8"/>
<rect x="871.1" y="2235.9" width="54.0" height="27.2" fill="#e6e3b0"/>
<rect x="927.9" y="2235.9" width="54.0" height="27.2" fill="#e6e3b0"/>
<rect x="984.8" y="2235.9" width="54.0" height="27.2" fill="#ccccb0"/>
<rect x="1041.6" y="2235.9" width="54.0" height="27.2" fill="#eee6a8"/>
<rect x="1098.4" y="2235.9" width="54.0" height="27.2" fill="#a8b4a8"/>
<rect x="1155.2" y="2235.9" width="54.0" height="27.2" fill="#eee6a8"/>
<rect x="1212.0" y="2235.9" width="54.0" height="27.2" fill="#eee6a8"/>
<rect x="1268.8" y="2235.9" width="54.0" height="27.2" fill="#eee6a8"/>
<rect x="1325.6" y="2235.9" width="54.0" height="27.2" fill="#edd4a0"/>
<rect x="1382.4" y="2235.9" width="54.0" height="27.2" fill="#a8b4a8"/>
<rect x="1439.2" y="2235.9" width="54.0" height="27.2" fill="#ccccb0"/>
<rect x="1496.0" y="2235.9" width="54.0" height="27.2" fill="#edd4a0"/>
<rect x="1552.9" y="2235.9" width="54.0" height="27.2" fill="#ccccb0"/>
<rect x="132.6" y="2265.9" width="54.0" height="27.2" fill="#a8b4a8"/>
<rect x="189.4" y="2265.9" width="54.0" height="27.2" fill="#a8b4a8"/>
<rect x="246.2" y="2265.9" width="54.0" height="27.2" fill="#ccccb0"/>
<rect x="303.0" y="2265.9" width="54.0" height="27.2" fill="#a8b4a8"/>
<rect x="359.8" y="2265.9" width="54.0" height="27.2" fill="#a8b4a8"/>
<rect x="416.6" y="2265.9" width="54.0" height="27.2" fill="#ccccb0"/>
<rect x="473.5" y="2265.9" width="54.0" height="27.2" fill="#ccccb0"/>
<rect x="530.3" y="2265.9" width="54.0" height="27.2" fill="#8898a8"/>
<rect x="587.1" y="2265.9" width="54.0" height="27.2" fill="#ccccb0"/>
<rect x="643.9" y="2265.9" width="54.0" height="27.2" fill="#ccccb0"/>
<rect x="700.7" y="2265.9" width="54.0" height="27.2" fill="#ccccb0"/>
<rect x="757.5" y="2265.9" width="54.0" height="27.2" fill="#ccccb0"/>
<rect x="814.3" y="2265.9" width="54.0" height="27.2" fill="#8898a8"/>
<rect x="871.1" y="2265.9" width="54.0" height="27.2" fill="#ccccb0"/>
<rect x="927.9" y="2265.9" width="54.0" height="27.2" fill="#e6e3b0"/>
<rect x="984.8" y="2265.9" width="54.0" height="27.2" fill="#ccccb0"/>
<rect x="1041.6" y="2265.9" width="54.0" height="27.2" fill="#ccccb0"/>
<rect x="1098.4" y="2265.9" width="54.0" height="27.2" fill="#8898a8"/>
<rect x="1155.2" y="2265.9" width="54.0" height="27.2" fill="#ccccb0"/>
<rect x="1212.0" y="2265.9" width="54.0" height="27.2" fill="#eee6a8"/>
<rect x="1268.8" y="2265.9" width="54.0" height="27.2" fill="#ccccb0"/>
<rect x="1325.6" y="2265.9" width="54.0" height="27.2" fill="#ccccb0"/>
<rect x="1382.4" y="2265.9" width="54.0" height="27.2" fill="#a8b4a8"/>
<rect x="1439.2" y="2265.9" width="54.0" height="27.2" fill="#a8b4a8"/>
<rect x="1496.0" y="2265.9" width="54.0" height="27.2" fill="#edd4a0"/>
<rect x="1552.9" y="2265.9" width="54.0" height="27.2" fill="#a8b4a8"/>
<rect x="132.6" y="2295.9" width="54.0" height="27.2" fill="#eee6a8"/>
<rect x="189.4" y="2295.9" width="54.0" height="27.2" fill="#eee6a8"/>
<rect x="246.2" y="2295.9" width="54.0" height="27.2" fill="#eee6a8"/>
<rect x="303.0" y="2295.9" width="54.0" height="27.2" fill="#eee6a8"/>
<rect x="359.8" y="2295.9" width="54.0" height="27.2" fill="#eee6a8"/>
<rect x="416.6" y="2295.9" width="54.0" height="27.2" fill="#a8b4a8"/>
<rect x="473.5" y="2295.9" width="54.0" height="27.2" fill="#edd4a0"/>
<rect x="530.3" y="2295.9" width="54.0" height="27.2" fill="#eee6a8"/>
<rect x="587.1" y="2295.9" width="54.0" height="27.2" fill="#eee6a8"/>
<rect x="643.9" y="2295.9" width="54.0" height="27.2" fill="#edd4a0"/>
<rect x="700.7" y="2295.9" width="54.0" height="27.2" fill="#eee6a8"/>
<rect x="757.5" y="2295.9" width="54.0" height="27.2" fill="#eee6a8"/>
<rect x="814.3" y="2295.9" width="54.0" height="27.2" fill="#eee6a8"/>
<rect x="871.1" y="2295.9" width="54.0" height="27.2" fill="#edd4a0"/>
<rect x="927.9" y="2295.9" width="54.0" height="27.2" fill="#e6e3b0"/>
<rect x="984.8" y="2295.9" width="54.0" height="27.2" fill="#edd4a0"/>
<rect x="1041.6" y="2295.9" width="54.0" height="27.2" fill="#eee6a8"/>
<rect x="1098.4" y="2295.9" width="54.0" height="27.2" fill="#e6e3b0"/>
<rect x="1155.2" y="2295.9" width="54.0" height="27.2" fill="#e8b488"/>
<rect x="1212.0" y="2295.9" width="54.0" height="27.2" fill="#ccccb0"/>
<rect x="1268.8" y="2295.9" width="54.0" height="27.2" fill="#eee6a8"/>
<rect x="1325.6" y="2295.9" width="54.0" height="27.2" fill="#edd4a0"/>
<rect x="1382.4" y="2295.9" width="54.0" height="27.2" fill="#eee6a8"/>
<rect x="1439.2" y="2295.9" width="54.0" height="27.2" fill="#edd4a0"/>
<rect x="1496.0" y="2295.9" width="54.0" height="27.2" fill="#eee6a8"/>
<rect x="1552.9" y="2295.9" width="54.0" height="27.2" fill="#eee6a8"/>
<rect x="132.6" y="2325.9" width="54.0" height="27.2" fill="#edd4a0"/>
<rect x="189.4" y="2325.9" width="54.0" height="27.2" fill="#edd4a0"/>
<rect x="246.2" y="2325.9" width="54.0" height="27.2" fill="#e8b488"/>
<rect x="303.0" y="2325.9" width="54.0" height="27.2" fill="#edd4a0"/>
<rect x="359.8" y="2325.9" width="54.0" height="27.2" fill="#e6e3b0"/>
<rect x="416.6" y="2325.9" width="54.0" height="27.2" fill="#eee6a8"/>
<rect x="473.5" y="2325.9" width="54.0" height="27.2" fill="#edd4a0"/>
<rect x="530.3" y="2325.9" width="54.0" height="27.2" fill="#eee6a8"/>
<rect x="587.1" y="2325.9" width="54.0" height="27.2" fill="#edd4a0"/>
<rect x="643.9" y="2325.9" width="54.0" height="27.2" fill="#e8b488"/>
<rect x="700.7" y="2325.9" width="54.0" height="27.2" fill="#e8b488"/>
<rect x="757.5" y="2325.9" width="54.0" height="27.2" fill="#edd4a0"/>
<rect x="814.3" y="2325.9" width="54.0" height="27.2" fill="#edd4a0"/>
<rect x="871.1" y="2325.9" width="54.0" height="27.2" fill="#eee6a8"/>
<rect x="927.9" y="2325.9" width="54.0" height="27.2" fill="#eee6a8"/>
<rect x="984.8" y="2325.9" width="54.0" height="27.2" fill="#edd4a0"/>
<rect x="1041.6" y="2325.9" width="54.0" height="27.2" fill="#eee6a8"/>
<rect x="1098.4" y="2325.9" width="54.0" height="27.2" fill="#eee6a8"/>
<rect x="1155.2" y="2325.9" width="54.0" height="27.2" fill="#edd4a0"/>
<rect x="1212.0" y="2325.9" width="54.0" height="27.2" fill="#eee6a8"/>
<rect x="1268.8" y="2325.9" width="54.0" height="27.2" fill="#e8b488"/>
<rect x="1325.6" y="2325.9" width="54.0" height="27.2" fill="#edd4a0"/>
<rect x="1382.4" y="2325.9" width="54.0" height="27.2" fill="#eee6a8"/>
<rect x="1439.2" y="2325.9" width="54.0" height="27.2" fill="#e8b488"/>
<rect x="1496.0" y="2325.9" width="54.0" height="27.2" fill="#eee6a8"/>
<rect x="1552.9" y="2325.9" width="54.0" height="27.2" fill="#edd4a0"/>
<rect x="132.6" y="2355.9" width="54.0" height="27.2" fill="#e89474"/>
<rect x="189.4" y="2355.9" width="54.0" height="27.2" fill="#e89474"/>
<rect x="246.2" y="2355.9" width="54.0" height="27.2" fill="#e06c54"/>
<rect x="303.0" y="2355.9" width="54.0" height="27.2" fill="#e06c54"/>
<rect x="359.8" y="2355.9" width="54.0" height="27.2" fill="#dc4a3a"/>
<rect x="416.6" y="2355.9" width="54.0" height="27.2" fill="#e89474"/>
<rect x="473.5" y="2355.9" width="54.0" height="27.2" fill="#e06c54"/>
<rect x="530.3" y="2355.9" width="54.0" height="27.2" fill="#e06c54"/>
<rect x="587.1" y="2355.9" width="54.0" height="27.2" fill="#e06c54"/>
<rect x="643.9" y="2355.9" width="54.0" height="27.2" fill="#e06c54"/>
<rect x="700.7" y="2355.9" width="54.0" height="27.2" fill="#e06c54"/>
<rect x="757.5" y="2355.9" width="54.0" height="27.2" fill="#e06c54"/>
<rect x="814.3" y="2355.9" width="54.0" height="27.2" fill="#e06c54"/>
<rect x="871.1" y="2355.9" width="54.0" height="27.2" fill="#e06c54"/>
<rect x="927.9" y="2355.9" width="54.0" height="27.2" fill="#e89474"/>
<rect x="984.8" y="2355.9" width="54.0" height="27.2" fill="#e06c54"/>
<rect x="1041.6" y="2355.9" width="54.0" height="27.2" fill="#e89474"/>
<rect x="1098.4" y="2355.9" width="54.0" height="27.2" fill="#e06c54"/>
<rect x="1155.2" y="2355.9" width="54.0" height="27.2" fill="#e06c54"/>
<rect x="1212.0" y="2355.9" width="54.0" height="27.2" fill="#e89474"/>
<rect x="1268.8" y="2355.9" width="54.0" height="27.2" fill="#e06c54"/>
<rect x="1325.6" y="2355.9" width="54.0" height="27.2" fill="#e06c54"/>
<rect x="1382.4" y="2355.9" width="54.0" height="27.2" fill="#e06c54"/>
<rect x="1439.2" y="2355.9" width="54.0" height="27.2" fill="#e89474"/>
<rect x="1496.0" y="2355.9" width="54.0" height="27.2" fill="#e06c54"/>
<rect x="1552.9" y="2355.9" width="54.0" height="27.2" fill="#e06c54"/>
<rect x="132.6" y="2385.9" width="54.0" height="27.2" fill="#e06c54"/>
<rect x="189.4" y="2385.9" width="54.0" height="27.2" fill="#e06c54"/>
<rect x="246.2" y="2385.9" width="54.0" height="27.2" fill="#e06c54"/>
<rect x="303.0" y="2385.9" width="54.0" height="27.2" fill="#dc4a3a"/>
<rect x="359.8" y="2385.9" width="54.0" height="27.2" fill="#dc4a3a"/>
<rect x="416.6" y="2385.9" width="54.0" height="27.2" fill="#e06c54"/>
<rect x="473.5" y="2385.9" width="54.0" height="27.2" fill="#dc4a3a"/>
<rect x="530.3" y="2385.9" width="54.0" height="27.2" fill="#dc4a3a"/>
<rect x="587.1" y="2385.9" width="54.0" height="27.2" fill="#e06c54"/>
<rect x="643.9" y="2385.9" width="54.0" height="27.2" fill="#dc4a3a"/>
<rect x="700.7" y="2385.9" width="54.0" height="27.2" fill="#dc4a3a"/>
<rect x="757.5" y="2385.9" width="54.0" height="27.2" fill="#e06c54"/>
<rect x="814.3" y="2385.9" width="54.0" height="27.2" fill="#e06c54"/>
<rect x="871.1" y="2385.9" width="54.0" height="27.2" fill="#dc4a3a"/>
<rect x="927.9" y="2385.9" width="54.0" height="27.2" fill="#e06c54"/>
<rect x="984.8" y="2385.9" width="54.0" height="27.2" fill="#dc4a3a"/>
<rect x="1041.6" y="2385.9" width="54.0" height="27.2" fill="#e06c54"/>
<rect x="1098.4" y="2385.9" width="54.0" height="27.2" fill="#e06c54"/>
<rect x="1155.2" y="2385.9" width="54.0" height="27.2" fill="#dc4a3a"/>
<rect x="1212.0" y="2385.9" width="54.0" height="27.2" fill="#e06c54"/>
<rect x="1268.8" y="2385.9" width="54.0" height="27.2" fill="#e06c54"/>
<rect x="1325.6" y="2385.9" width="54.0" height="27.2" fill="#e06c54"/>
<rect x="1382.4" y="2385.9" width="54.0" height="27.2" fill="#e06c54"/>
<rect x="1439.2" y="2385.9" width="54.0" height="27.2" fill="#e06c54"/>
<rect x="1496.0" y="2385.9" width="54.0" height="27.2" fill="#e06c54"/>
<rect x="1552.9" y="2385.9" width="54.0" height="27.2" fill="#e06c54"/>
<rect x="132.6" y="2415.9" width="54.0" height="27.2" fill="#2c57b0"/>
<rect x="189.4" y="2415.9" width="54.0" height="27.2" fill="#0418ac"/>
<rect x="246.2" y="2415.9" width="54.0" height="27.2" fill="#2c57b0"/>
<rect x="303.0" y="2415.9" width="54.0" height="27.2" fill="#2c57b0"/>
<rect x="359.8" y="2415.9" width="54.0" height="27.2" fill="#2c57b0"/>
<rect x="416.6" y="2415.9" width="54.0" height="27.2" fill="#2c57b0"/>
<rect x="473.5" y="2415.9" width="54.0" height="27.2" fill="#2c57b0"/>
<rect x="530.3" y="2415.9" width="54.0" height="27.2" fill="#0a32b2"/>
<rect x="587.1" y="2415.9" width="54.0" height="27.2" fill="#1e4ab0"/>
<rect x="643.9" y="2415.9" width="54.0" height="27.2" fill="#0a32b2"/>
<rect x="700.7" y="2415.9" width="54.0" height="27.2" fill="#2c57b0"/>
<rect x="757.5" y="2415.9" width="54.0" height="27.2" fill="#0a32b2"/>
<rect x="814.3" y="2415.9" width="54.0" height="27.2" fill="#4068b0"/>
<rect x="871.1" y="2415.9" width="54.0" height="27.2" fill="#0a32b2"/>
<rect x="927.9" y="2415.9" width="54.0" height="27.2" fill="#0a32b2"/>
<rect x="984.8" y="2415.9" width="54.0" height="27.2" fill="#0a32b2"/>
<rect x="1041.6" y="2415.9" width="54.0" height="27.2" fill="#1e4ab0"/>
<rect x="1098.4" y="2415.9" width="54.0" height="27.2" fill="#0a32b2"/>
<rect x="1155.2" y="2415.9" width="54.0" height="27.2" fill="#4068b0"/>
<rect x="1212.0" y="2415.9" width="54.0" height="27.2" fill="#2c57b0"/>
<rect x="1268.8" y="2415.9" width="54.0" height="27.2" fill="#2c57b0"/>
<rect x="1325.6" y="2415.9" width="54.0" height="27.2" fill="#2c57b0"/>
<rect x="1382.4" y="2415.9" width="54.0" height="27.2" fill="#2c57b0"/>
<rect x="1439.2" y="2415.9" width="54.0" height="27.2" fill="#1e4ab0"/>
<rect x="1496.0" y="2415.9" width="54.0" height="27.2" fill="#2c57b0"/>
<rect x="1552.9" y="2415.9" width="54.0" height="27.2" fill="#1e4ab0"/>
<rect x="132.6" y="2445.9" width="54.0" height="27.2" fill="#6a86b0"/>
<rect x="189.4" y="2445.9" width="54.0" height="27.2" fill="#8898a8"/>
<rect x="246.2" y="2445.9" width="54.0" height="27.2" fill="#4068b0"/>
<rect x="303.0" y="2445.9" width="54.0" height="27.2" fill="#a8b4a8"/>
<rect x="359.8" y="2445.9" width="54.0" height="27.2" fill="#a8b4a8"/>
<rect x="416.6" y="2445.9" width="54.0" height="27.2" fill="#1e4ab0"/>
<rect x="473.5" y="2445.9" width="54.0" height="27.2" fill="#ccccb0"/>
<rect x="530.3" y="2445.9" width="54.0" height="27.2" fill="#8898a8"/>
<rect x="587.1" y="2445.9" width="54.0" height="27.2" fill="#a8b4a8"/>
<rect x="643.9" y="2445.9" width="54.0" height="27.2" fill="#6a86b0"/>
<rect x="700.7" y="2445.9" width="54.0" height="27.2" fill="#6a86b0"/>
<rect x="757.5" y="2445.9" width="54.0" height="27.2" fill="#6a86b0"/>
<rect x="814.3" y="2445.9" width="54.0" height="27.2" fill="#6a86b0"/>
<rect x="871.1" y="2445.9" width="54.0" height="27.2" fill="#a8b4a8"/>
<rect x="927.9" y="2445.9" width="54.0" height="27.2" fill="#6a86b0"/>
<rect x="984.8" y="2445.9" width="54.0" height="27.2" fill="#8898a8"/>
<rect x="1041.6" y="2445.9" width="54.0" height="27.2" fill="#8898a8"/>
<rect x="1098.4" y="2445.9" width="54.0" height="27.2" fill="#8898a8"/>
<rect x="1155.2" y="2445.9" width="54.0" height="27.2" fill="#ccccb0"/>
<rect x="1212.0" y="2445.9" width="54.0" height="27.2" fill="#4068b0"/>
<rect x="1268.8" y="2445.9" width="54.0" height="27.2" fill="#6a86b0"/>
<rect x="1325.6" y="2445.9" width="54.0" height="27.2" fill="#a8b4a8"/>
<rect x="1382.4" y="2445.9" width="54.0" height="27.2" fill="#8898a8"/>
<rect x="1439.2" y="2445.9" width="54.0" height="27.2" fill="#8898a8"/>
<rect x="1496.0" y="2445.9" width="54.0" height="27.2" fill="#a8b4a8"/>
<rect x="1552.9" y="2445.9" width="54.0" height="27.2" fill="#4068b0"/>
</g>
<g font-family="Liberation Serif, serif" font-size="50" fill="#111">
<text transform="translate(42,72.5) scale(1.03,1)">A</text><text transform="translate(27.8,1377.8) scale(1.07,1)">B</text>
</g>
<g font-family="Liberation Serif, serif" font-size="38.5" fill="#222">
<text transform="translate(1948,65.6) scale(1.06,1)">Log2(FPKM)</text><text transform="translate(1949.5,1347) scale(1.065,1)">Log2(FPKM)</text>
</g>
<g font-family="Liberation Sans, Arial, sans-serif" font-size="35.4" fill="#222">
<text transform="translate(1617.6,88.6) scale(1.062,1)">GhPRA1.B4-3A</text>
<text transform="translate(1617.6,118.8) scale(1.062,1)">GhPRA1.B4-3D</text>
<text transform="translate(1617.6,149.1) scale(1.062,1)">GhPRA1.B4-4A</text>
<text transform="translate(1617.6,179.3) scale(1.062,1)">GhPRA1.B4-4D</text>
<text transform="translate(1617.6,209.5) scale(1.062,1)">GhPRA1.B4-1A</text>
<text transform="translate(1617.6,239.8) scale(1.062,1)">GhPRA1.B4-1D</text>
<text transform="translate(1617.6,270.0) scale(1.062,1)">GhPRA1.B4-2A</text>
<text transform="translate(1617.6,300.2) scale(1.062,1)">GhPRA1.B4-2D</text>
<text transform="translate(1617.6,330.5) scale(1.062,1)">GhPRA1.B1-1A</text>
<text transform="translate(1617.6,360.7) scale(1.062,1)">GhPRA1.B1-1D</text>
<text transform="translate(1617.6,390.9) scale(1.062,1)">GhPRA1.B1-2A</text>
<text transform="translate(1617.6,421.1) scale(1.062,1)">GhPRA1.B1-2D</text>
<text transform="translate(1617.6,451.4) scale(1.062,1)">GhPRA1.G2-1A</text>
<text transform="translate(1617.6,481.6) scale(1.062,1)">GhPRA1.G2-1D</text>
<text transform="translate(1617.6,511.8) scale(1.062,1)">GhPRA1.E-2A</text>
<text transform="translate(1617.6,542.1) scale(1.062,1)">GhPRA1.E-2D</text>
<text transform="translate(1617.6,572.3) scale(1.062,1)">GhPRA1.E-1A</text>
<text transform="translate(1617.6,602.5) scale(1.062,1)">GhPRA1.E-1D</text>
<text transform="translate(1617.6,632.8) scale(1.062,1)">GhPRA1.F2-3D</text>
<text transform="translate(1617.6,663.0) scale(1.062,1)">GhPRA1.F2-2A</text>
<text transform="translate(1617.6,693.2) scale(1.062,1)">GhPRA1.F2-2D</text>
<text transform="translate(1617.6,723.4) scale(1.062,1)">GhPRA1.F2-1A</text>
<text transform="translate(1617.6,753.7) scale(1.062,1)">GhPRA1.F2-1D</text>
<text transform="translate(1617.6,783.9) scale(1.062,1)">GhPRA1.C-1A</text>
<text transform="translate(1617.6,814.1) scale(1.062,1)">GhPRA1.C-1D</text>
<text transform="translate(1617.6,844.4) scale(1.062,1)">GhPRA1.C-2A</text>
<text transform="translate(1617.6,874.6) scale(1.062,1)">GhPRA1.C-2D</text>
<text transform="translate(1617.6,904.8) scale(1.062,1)">GhPRA1.D-2A</text>
<text transform="translate(1617.6,935.1) scale(1.062,1)">GhPRA1.D-2D</text>
<text transform="translate(1617.6,965.3) scale(1.062,1)">GhPRA1.H-1A</text>
<text transform="translate(1617.6,995.5) scale(1.062,1)">GhPRA1.H-1D</text>
<text transform="translate(1617.6,1025.7) scale(1.062,1)">GhPRA1.A1-2A</text>
<text transform="translate(1617.6,1056.0) scale(1.062,1)">GhPRA1.A1-2D</text>
<text transform="translate(1617.6,1086.2) scale(1.062,1)">GhPRA1.A1-1A</text>
<text transform="translate(1617.6,1116.4) scale(1.062,1)">GhPRA1.A1-1D</text>
<text transform="translate(1617.6,1146.7) scale(1.062,1)">GhPRA1.A1-3A</text>
<text transform="translate(1617.6,1176.9) scale(1.062,1)">GhPRA1.A1-3D</text>
</g>
<g font-family="Liberation Sans, Arial, sans-serif" font-size="34.2" fill="#222">
<text transform="translate(1619.6,1391.5) scale(1.109,1)">GhPRA1.B4-3A</text>
<text transform="translate(1619.6,1421.4) scale(1.109,1)">GhPRA1.B4-3D</text>
<text transform="translate(1619.6,1451.4) scale(1.109,1)">GhPRA1.B4-4A</text>
<text transform="translate(1619.6,1481.4) scale(1.109,1)">GhPRA1.B4-4D</text>
<text transform="translate(1619.6,1511.3) scale(1.109,1)">GhPRA1.B4-1A</text>
<text transform="translate(1619.6,1541.3) scale(1.109,1)">GhPRA1.B4-1D</text>
<text transform="translate(1619.6,1571.2) scale(1.109,1)">GhPRA1.B4-2A</text>
<text transform="translate(1619.6,1601.2) scale(1.109,1)">GhPRA1.B4-2D</text>
<text transform="translate(1619.6,1631.2) scale(1.109,1)">GhPRA1.B1-1A</text>
<text transform="translate(1619.6,1661.1) scale(1.109,1)">GhPRA1.B1-1D</text>
<text transform="translate(1619.6,1691.1) scale(1.109,1)">GhPRA1.B1-2A</text>
<text transform="translate(1619.6,1721.0) scale(1.109,1)">GhPRA1.B1-2D</text>
<text transform="translate(1619.6,1751.0) scale(1.109,1)">GhPRA1.G2-1A</text>
<text transform="translate(1619.6,1781.0) scale(1.109,1)">GhPRA1.G2-1D</text>
<text transform="translate(1619.6,1810.9) scale(1.109,1)">GhPRA1.E-2A</text>
<text transform="translate(1619.6,1840.9) scale(1.109,1)">GhPRA1.E-2D</text>
<text transform="translate(1619.6,1870.8) scale(1.109,1)">GhPRA1.E-1A</text>
<text transform="translate(1619.6,1900.8) scale(1.109,1)">GhPRA1.E-1D</text>
<text transform="translate(1619.6,1930.8) scale(1.109,1)">GhPRA1.F2-3D</text>
<text transform="translate(1619.6,1960.7) scale(1.109,1)">GhPRA1.F2-2A</text>
<text transform="translate(1619.6,1990.7) scale(1.109,1)">GhPRA1.F2-2D</text>
<text transform="translate(1619.6,2020.6) scale(1.109,1)">GhPRA1.F2-1A</text>
<text transform="translate(1619.6,2050.6) scale(1.109,1)">GhPRA1.F2-1D</text>
<text transform="translate(1619.6,2080.6) scale(1.109,1)">GhPRA1.C-1A</text>
<text transform="translate(1619.6,2110.5) scale(1.109,1)">GhPRA1.C-1D</text>
<text transform="translate(1619.6,2140.5) scale(1.109,1)">GhPRA1.C-2A</text>
<text transform="translate(1619.6,2170.4) scale(1.109,1)">GhPRA1.C-2D</text>
<text transform="translate(1619.6,2200.4) scale(1.109,1)">GhPRA1.D-2A</text>
<text transform="translate(1619.6,2230.4) scale(1.109,1)">GhPRA1.D-2D</text>
<text transform="translate(1619.6,2260.3) scale(1.109,1)">GhPRA1.H-1A</text>
<text transform="translate(1619.6,2290.3) scale(1.109,1)">GhPRA1.H-1D</text>
<text transform="translate(1619.6,2320.2) scale(1.109,1)">GhPRA1.A1-2A</text>
<text transform="translate(1619.6,2350.2) scale(1.109,1)">GhPRA1.A1-2D</text>
<text transform="translate(1619.6,2380.2) scale(1.109,1)">GhPRA1.A1-1A</text>
<text transform="translate(1619.6,2410.1) scale(1.109,1)">GhPRA1.A1-1D</text>
<text transform="translate(1619.6,2440.1) scale(1.109,1)">GhPRA1.A1-3A</text>
<text transform="translate(1619.6,2470.0) scale(1.109,1)">GhPRA1.A1-3D</text>
</g>
<g font-family="Liberation Sans, Arial, sans-serif" font-size="35" fill="#222" text-anchor="end">
<text transform="translate(192.3,1207) scale(1.07,1) rotate(-45)">root</text>
<text transform="translate(255.9,1207) scale(1.07,1) rotate(-45)">stem</text>
<text transform="translate(319.5,1207) scale(1.07,1) rotate(-45)">leaf</text>
<text transform="translate(383.1,1207) scale(1.07,1) rotate(-45)">petal</text>
<text transform="translate(446.7,1207) scale(1.07,1) rotate(-45)">torus</text>
<text transform="translate(510.4,1207) scale(1.07,1) rotate(-45)">sepal</text>
<text transform="translate(574.0,1207) scale(1.07,1) rotate(-45)">bract</text>
<text transform="translate(637.6,1207) scale(1.07,1) rotate(-45)">anther</text>
<text transform="translate(701.2,1207) scale(1.07,1) rotate(-45)">filament</text>
<text transform="translate(764.8,1207) scale(1.07,1) rotate(-45)">pistil</text>
<text transform="translate(828.4,1207) scale(1.07,1) rotate(-45)">-3DPA</text>
<text transform="translate(892.0,1207) scale(1.07,1) rotate(-45)">0DPA</text>
<text transform="translate(955.6,1207) scale(1.07,1) rotate(-45)">1DPA</text>
<text transform="translate(1019.2,1207) scale(1.07,1) rotate(-45)">3DPA</text>
<text transform="translate(1082.8,1207) scale(1.07,1) rotate(-45)">5DPA</text>
<text transform="translate(1146.5,1207) scale(1.07,1) rotate(-45)">10DO</text>
<text transform="translate(1210.1,1207) scale(1.07,1) rotate(-45)">15DO</text>
<text transform="translate(1273.7,1207) scale(1.07,1) rotate(-45)">20DO</text>
<text transform="translate(1337.3,1207) scale(1.07,1) rotate(-45)">25DO</text>
<text transform="translate(1400.9,1207) scale(1.07,1) rotate(-45)">10DF</text>
<text transform="translate(1464.5,1207) scale(1.07,1) rotate(-45)">15DF</text>
<text transform="translate(1528.1,1207) scale(1.07,1) rotate(-45)">20DF</text>
<text transform="translate(1591.7,1207) scale(1.07,1) rotate(-45)">25DF</text>
</g>
<g font-family="Liberation Sans, Arial, sans-serif" font-size="34.2" fill="#222" text-anchor="end">
<text transform="translate(177.6,2503) scale(1.11,1) rotate(-45)">ck 0h</text>
<text transform="translate(234.4,2503) scale(1.11,1) rotate(-45)">ck 1h</text>
<text transform="translate(291.2,2503) scale(1.11,1) rotate(-45)">Cold 1h</text>
<text transform="translate(348.0,2503) scale(1.11,1) rotate(-45)">drought 1h</text>
<text transform="translate(404.8,2503) scale(1.11,1) rotate(-45)">heat 1h</text>
<text transform="translate(461.7,2503) scale(1.11,1) rotate(-45)">salt 1h</text>
<text transform="translate(518.5,2503) scale(1.11,1) rotate(-45)">ck 3h</text>
<text transform="translate(575.3,2503) scale(1.11,1) rotate(-45)">Cold 3h</text>
<text transform="translate(632.1,2503) scale(1.11,1) rotate(-45)">drought 3h</text>
<text transform="translate(688.9,2503) scale(1.11,1) rotate(-45)">heat 3h</text>
<text transform="translate(745.7,2503) scale(1.11,1) rotate(-45)">salt 3h</text>
<text transform="translate(802.5,2503) scale(1.11,1) rotate(-45)">ck 6h</text>
<text transform="translate(859.3,2503) scale(1.11,1) rotate(-45)">Cold 6h</text>
<text transform="translate(916.1,2503) scale(1.11,1) rotate(-45)">drought 6h</text>
<text transform="translate(972.9,2503) scale(1.11,1) rotate(-45)">heat 6h</text>
<text transform="translate(1029.8,2503) scale(1.11,1) rotate(-45)">salt 6h</text>
<text transform="translate(1086.6,2503) scale(1.11,1) rotate(-45)">ck 12h</text>
<text transform="translate(1143.4,2503) scale(1.11,1) rotate(-45)">Cold 12h</text>
<text transform="translate(1200.2,2503) scale(1.11,1) rotate(-45)">drought 12h</text>
<text transform="translate(1257.0,2503) scale(1.11,1) rotate(-45)">heat 12h</text>
<text transform="translate(1313.8,2503) scale(1.11,1) rotate(-45)">salt 12h</text>
<text transform="translate(1370.6,2503) scale(1.11,1) rotate(-45)">ck 24h</text>
<text transform="translate(1427.4,2503) scale(1.11,1) rotate(-45)">Cold 24h</text>
<text transform="translate(1484.2,2503) scale(1.11,1) rotate(-45)">drought 24h</text>
<text transform="translate(1541.0,2503) scale(1.11,1) rotate(-45)">heat 24h</text>
<text transform="translate(1597.9,2503) scale(1.11,1) rotate(-45)">salt 24h</text>
</g>
<g font-family="Liberation Sans, Arial, sans-serif" font-size="31" fill="#333">
<rect x="2012" y="111" width="49" height="371" fill="url(#ga)"/>
<line x1="2061" y1="111" x2="2061" y2="482" stroke="#222" stroke-width="2.5"/>
<line x1="2061" y1="111.0" x2="2069" y2="111.0" stroke="#222" stroke-width="2.5"/>
<text transform="translate(2076,123.5) scale(1.065,1)">7.00</text>
<line x1="2061" y1="203.8" x2="2069" y2="203.8" stroke="#222" stroke-width="2.5"/>
<text transform="translate(2076,216.2) scale(1.065,1)">5.00</text>
<line x1="2061" y1="296.5" x2="2069" y2="296.5" stroke="#222" stroke-width="2.5"/>
<text transform="translate(2076,309.0) scale(1.065,1)">3.00</text>
<line x1="2061" y1="389.2" x2="2069" y2="389.2" stroke="#222" stroke-width="2.5"/>
<text transform="translate(2076,401.8) scale(1.065,1)">1.00</text>
<line x1="2061" y1="482.0" x2="2069" y2="482.0" stroke="#222" stroke-width="2.5"/>
<text transform="translate(2076,494.5) scale(1.065,1)">-1.00</text>
<rect x="2016" y="1414" width="49" height="368" fill="url(#gb)"/>
<line x1="2065" y1="1414" x2="2065" y2="1782" stroke="#222" stroke-width="2.5"/>
<line x1="2065" y1="1414.0" x2="2073" y2="1414.0" stroke="#222" stroke-width="2.5"/>
<text transform="translate(2078.5,1425.5) scale(1.1,1)">6.00</text>
<line x1="2065" y1="1466.6" x2="2073" y2="1466.6" stroke="#222" stroke-width="2.5"/>
<text transform="translate(2078.5,1478.1) scale(1.1,1)">5.00</text>
<line x1="2065" y1="1519.1" x2="2073" y2="1519.1" stroke="#222" stroke-width="2.5"/>
<text transform="translate(2078.5,1530.6) scale(1.1,1)">4.00</text>
<line x1="2065" y1="1571.7" x2="2073" y2="1571.7" stroke="#222" stroke-width="2.5"/>
<text transform="translate(2078.5,1583.2) scale(1.1,1)">3.00</text>
<line x1="2065" y1="1624.3" x2="2073" y2="1624.3" stroke="#222" stroke-width="2.5"/>
<text transform="translate(2078.5,1635.8) scale(1.1,1)">2.00</text>
<line x1="2065" y1="1676.9" x2="2073" y2="1676.9" stroke="#222" stroke-width="2.5"/>
<text transform="translate(2078.5,1688.4) scale(1.1,1)">1.00</text>
<line x1="2065" y1="1729.4" x2="2073" y2="1729.4" stroke="#222" stroke-width="2.5"/>
<text transform="translate(2078.5,1740.9) scale(1.1,1)">0.00</text>
<line x1="2065" y1="1782.0" x2="2073" y2="1782.0" stroke="#222" stroke-width="2.5"/>
<text transform="translate(2078.5,1793.5) scale(1.1,1)">-1.00</text>
</g>
</svg>
</body></html>
